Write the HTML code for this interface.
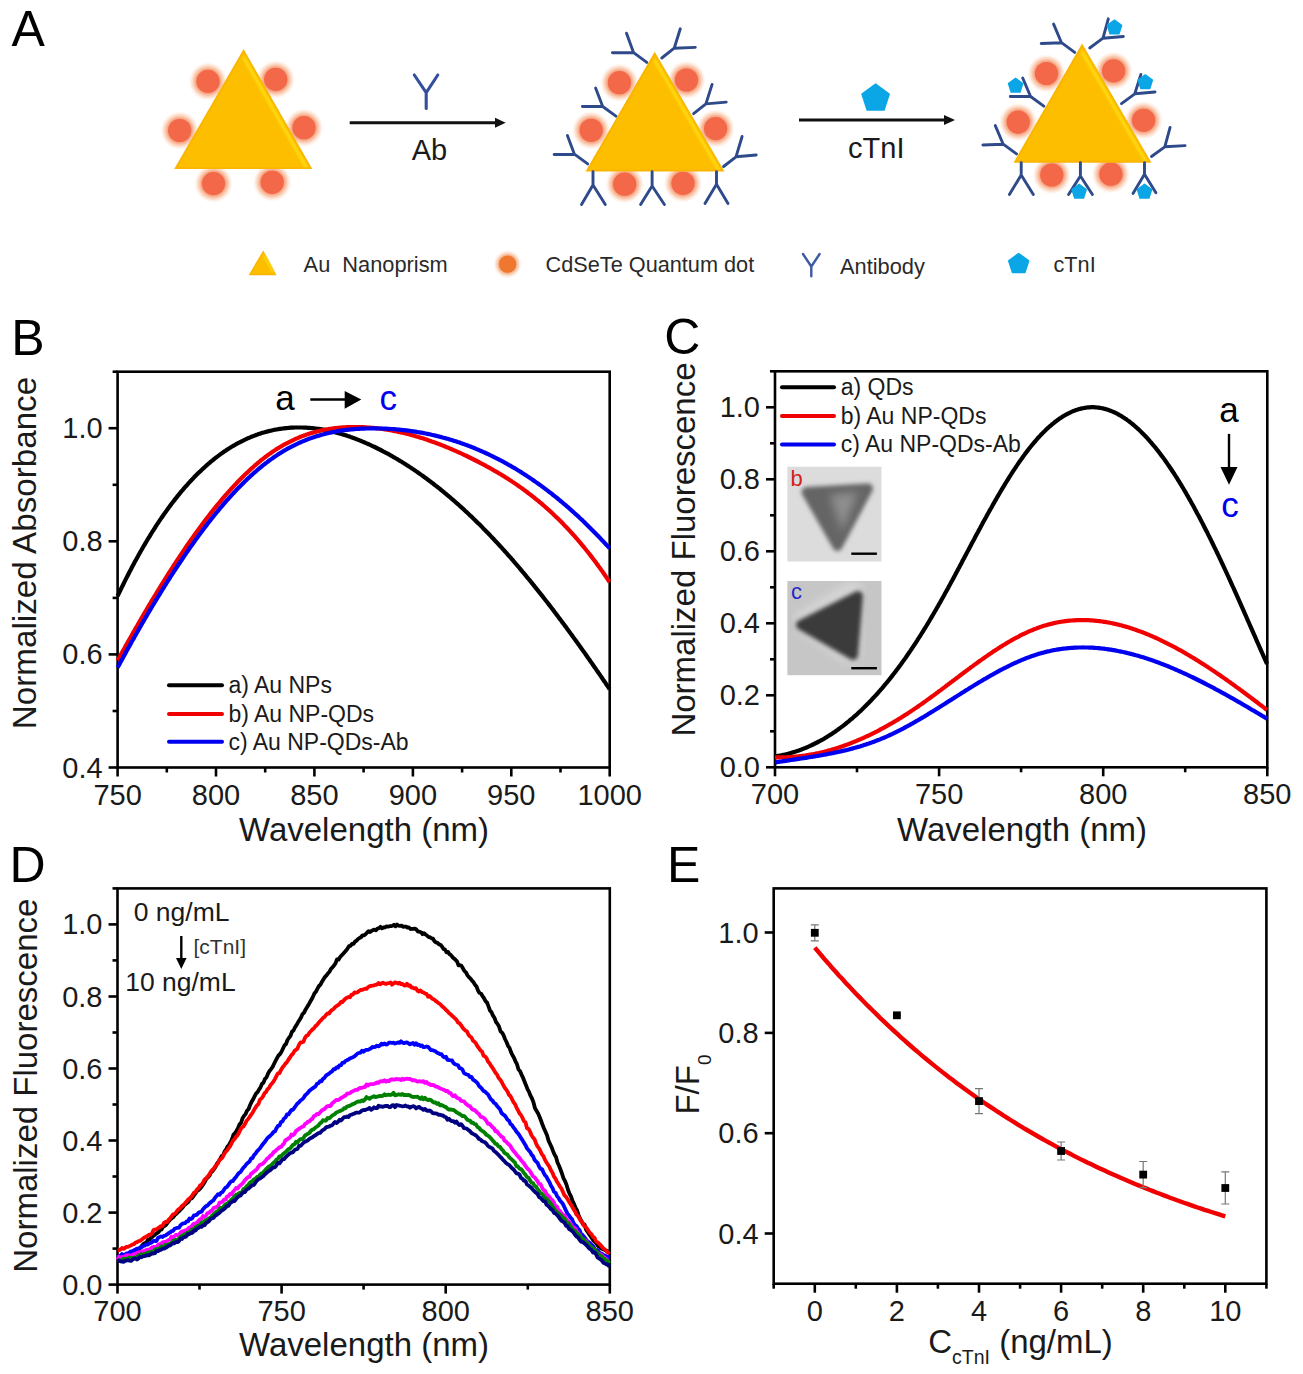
<!DOCTYPE html><html><head><meta charset="utf-8"><style>html,body{margin:0;padding:0;background:#fff;}svg{display:block;}</style></head><body>
<svg width="1303" height="1374" viewBox="0 0 1303 1374" font-family='"Liberation Sans", sans-serif'>
<defs>
<radialGradient id="qd" cx="50%" cy="50%" r="50%">
 <stop offset="0" stop-color="#F59070"/>
 <stop offset="0.55" stop-color="#F59070"/>
 <stop offset="0.68" stop-color="#F8B08C" stop-opacity="0.9"/>
 <stop offset="0.84" stop-color="#FBD0B6" stop-opacity="0.55"/>
 <stop offset="1" stop-color="#FEEEE4" stop-opacity="0"/>
</radialGradient>
<radialGradient id="qd2" cx="50%" cy="50%" r="50%">
 <stop offset="0" stop-color="#F5A070"/>
 <stop offset="0.55" stop-color="#F5A070"/>
 <stop offset="0.72" stop-color="#F8C09C" stop-opacity="0.8"/>
 <stop offset="0.86" stop-color="#FBDCC8" stop-opacity="0.45"/>
 <stop offset="1" stop-color="#FEF0E8" stop-opacity="0"/>
</radialGradient>
<filter id="soft" x="-10%" y="-10%" width="120%" height="120%"><feGaussianBlur stdDeviation="0.8"/></filter>
</defs>
<rect width="1303" height="1374" fill="#fff"/>
<circle cx="208" cy="81.4" r="19.5" fill="url(#qd)"/>
<circle cx="208" cy="81.4" r="11.6" fill="#F26848"/>
<circle cx="275.7" cy="79.4" r="19.5" fill="url(#qd)"/>
<circle cx="275.7" cy="79.4" r="11.6" fill="#F26848"/>
<circle cx="179.7" cy="130.5" r="19.5" fill="url(#qd)"/>
<circle cx="179.7" cy="130.5" r="11.6" fill="#F26848"/>
<circle cx="304" cy="127.7" r="19.5" fill="url(#qd)"/>
<circle cx="304" cy="127.7" r="11.6" fill="#F26848"/>
<circle cx="213.5" cy="183.6" r="19.5" fill="url(#qd)"/>
<circle cx="213.5" cy="183.6" r="11.6" fill="#F26848"/>
<circle cx="272.2" cy="182.3" r="19.5" fill="url(#qd)"/>
<circle cx="272.2" cy="182.3" r="11.6" fill="#F26848"/>
<polygon points="243.6,49 174.2,169.1 312.3,169.1" fill="#F9B500"/>
<polygon points="243.6,53.0 177.7,167.1 308.9,167.1" fill="#FDBE00"/>
<line x1="244.1" y1="58.3" x2="305.9" y2="166.4" stroke="#FFDC12" stroke-width="3" stroke-linecap="round" filter="url(#soft)"/>
<circle cx="619.4" cy="82.7" r="19.5" fill="url(#qd)"/>
<circle cx="619.4" cy="82.7" r="11.6" fill="#F26848"/>
<circle cx="686.5" cy="80" r="19.5" fill="url(#qd)"/>
<circle cx="686.5" cy="80" r="11.6" fill="#F26848"/>
<circle cx="591.2" cy="130.3" r="19.5" fill="url(#qd)"/>
<circle cx="591.2" cy="130.3" r="11.6" fill="#F26848"/>
<circle cx="715.6" cy="128.6" r="19.5" fill="url(#qd)"/>
<circle cx="715.6" cy="128.6" r="11.6" fill="#F26848"/>
<circle cx="624.7" cy="184.2" r="19.5" fill="url(#qd)"/>
<circle cx="624.7" cy="184.2" r="11.6" fill="#F26848"/>
<circle cx="683" cy="183.3" r="19.5" fill="url(#qd)"/>
<circle cx="683" cy="183.3" r="11.6" fill="#F26848"/>
<polygon points="654.7,51.8 585.5,171.5 724.5,171.5" fill="#F9B500"/>
<polygon points="654.7,55.8 589.0,169.5 721.0,169.5" fill="#FDBE00"/>
<line x1="655.3" y1="61.1" x2="718.1" y2="168.8" stroke="#FFDC12" stroke-width="3" stroke-linecap="round" filter="url(#soft)"/>
<path d="M615.9,116.2 L602.7,106.5 M582.4,106.5 L602.7,106.5 L595.6,88" stroke="#2F4A8A" stroke-width="2.9" fill="none" stroke-linecap="round" stroke-linejoin="round"/>
<path d="M587.7,163.9 L574.4,154.2 M554.1,154.5 L574.4,154.2 L567.4,135.6" stroke="#2F4A8A" stroke-width="2.9" fill="none" stroke-linecap="round" stroke-linejoin="round"/>
<path d="M646.8,62.4 L633.6,52.7 M612.4,52.7 L633.6,52.7 L626.5,33.2" stroke="#2F4A8A" stroke-width="2.9" fill="none" stroke-linecap="round" stroke-linejoin="round"/>
<path d="M661.8,58 L674.2,48.2 M695.3,47.4 L674.2,48.2 L680.3,28.8" stroke="#2F4A8A" stroke-width="2.9" fill="none" stroke-linecap="round" stroke-linejoin="round"/>
<path d="M693.6,113.6 L705.9,103.9 M726.2,102.1 L705.9,103.9 L712.1,84.4" stroke="#2F4A8A" stroke-width="2.9" fill="none" stroke-linecap="round" stroke-linejoin="round"/>
<path d="M723.6,166.5 L736,156.8 M756.2,155 L736,156.8 L742.1,136.5" stroke="#2F4A8A" stroke-width="2.9" fill="none" stroke-linecap="round" stroke-linejoin="round"/>
<path d="M593,171.8 L593,185 M581.5,204.5 L593,185 L605.3,204.5" stroke="#2F4A8A" stroke-width="2.9" fill="none" stroke-linecap="round" stroke-linejoin="round"/>
<path d="M652.1,171.8 L652.1,186 M640.6,204.5 L652.1,186 L664.4,204.5" stroke="#2F4A8A" stroke-width="2.9" fill="none" stroke-linecap="round" stroke-linejoin="round"/>
<path d="M716.5,171.8 L716.5,184.2 M705,203.6 L716.5,184.2 L728,203.6" stroke="#2F4A8A" stroke-width="2.9" fill="none" stroke-linecap="round" stroke-linejoin="round"/>
<circle cx="1046.5" cy="73.5" r="19.5" fill="url(#qd)"/>
<circle cx="1046.5" cy="73.5" r="11.6" fill="#F26848"/>
<circle cx="1113.6" cy="70.9" r="19.5" fill="url(#qd)"/>
<circle cx="1113.6" cy="70.9" r="11.6" fill="#F26848"/>
<circle cx="1018.2" cy="122.1" r="19.5" fill="url(#qd)"/>
<circle cx="1018.2" cy="122.1" r="11.6" fill="#F26848"/>
<circle cx="1143.6" cy="120.3" r="19.5" fill="url(#qd)"/>
<circle cx="1143.6" cy="120.3" r="11.6" fill="#F26848"/>
<circle cx="1051.8" cy="175" r="19.5" fill="url(#qd)"/>
<circle cx="1051.8" cy="175" r="11.6" fill="#F26848"/>
<circle cx="1110.9" cy="174.2" r="19.5" fill="url(#qd)"/>
<circle cx="1110.9" cy="174.2" r="11.6" fill="#F26848"/>
<polygon points="1082.1,43.5 1013.5,162.7 1151.5,162.7" fill="#F9B500"/>
<polygon points="1082.1,47.5 1016.9,160.7 1148.0,160.7" fill="#FDBE00"/>
<line x1="1082.6" y1="52.8" x2="1145.1" y2="160.0" stroke="#FFDC12" stroke-width="3" stroke-linecap="round" filter="url(#soft)"/>
<path d="M1074.7,52.4 L1061.5,42.7 M1041.2,43.5 L1061.5,42.7 L1053.6,24.1" stroke="#2F4A8A" stroke-width="2.9" fill="none" stroke-linecap="round" stroke-linejoin="round"/>
<path d="M1089.7,48 L1103,38.2 M1123.3,36.5 L1103,38.2 L1108.3,18.8" stroke="#2F4A8A" stroke-width="2.9" fill="none" stroke-linecap="round" stroke-linejoin="round"/>
<path d="M1043.8,106.2 L1030.6,96.5 M1010.3,96.5 L1030.6,96.5 L1022.7,78" stroke="#2F4A8A" stroke-width="2.9" fill="none" stroke-linecap="round" stroke-linejoin="round"/>
<path d="M1016.5,153.9 L1003.2,144.2 M982.9,145 L1003.2,144.2 L995.3,125.6" stroke="#2F4A8A" stroke-width="2.9" fill="none" stroke-linecap="round" stroke-linejoin="round"/>
<path d="M1121.5,103.6 L1134.8,93.8 M1155,92 L1134.8,93.8 L1140.9,74.4" stroke="#2F4A8A" stroke-width="2.9" fill="none" stroke-linecap="round" stroke-linejoin="round"/>
<path d="M1151.5,156.5 L1164.8,146.8 M1185.1,145.6 L1164.8,146.8 L1170.1,127.4" stroke="#2F4A8A" stroke-width="2.9" fill="none" stroke-linecap="round" stroke-linejoin="round"/>
<path d="M1021.2,162.7 L1021.2,175 M1009.4,194.5 L1021.2,175 L1033.3,194.5" stroke="#2F4A8A" stroke-width="2.9" fill="none" stroke-linecap="round" stroke-linejoin="round"/>
<path d="M1080.4,162.7 L1080.4,176 M1068.6,194.5 L1080.4,176 L1092.4,194.5" stroke="#2F4A8A" stroke-width="2.9" fill="none" stroke-linecap="round" stroke-linejoin="round"/>
<path d="M1144.5,162.7 L1144.5,174.2 M1133,193.6 L1144.5,174.2 L1155.9,192.7" stroke="#2F4A8A" stroke-width="2.9" fill="none" stroke-linecap="round" stroke-linejoin="round"/>
<polygon points="1114.5,20.2 1121.6,25.4 1118.9,33.8 1110.1,33.8 1107.4,25.4" fill="#0AA6E6" stroke="#0AA6E6" stroke-width="1.5" stroke-linejoin="round"/>
<polygon points="1015.6,78.4 1022.7,83.6 1020.0,92.0 1011.2,92.0 1008.5,83.6" fill="#0AA6E6" stroke="#0AA6E6" stroke-width="1.5" stroke-linejoin="round"/>
<polygon points="1145.3,74.9 1152.4,80.1 1149.7,88.5 1140.9,88.5 1138.2,80.1" fill="#0AA6E6" stroke="#0AA6E6" stroke-width="1.5" stroke-linejoin="round"/>
<polygon points="1079.1,184.3 1086.2,189.5 1083.5,197.9 1074.7,197.9 1072.0,189.5" fill="#0AA6E6" stroke="#0AA6E6" stroke-width="1.5" stroke-linejoin="round"/>
<polygon points="1144.5,184.3 1151.6,189.5 1148.9,197.9 1140.1,197.9 1137.4,189.5" fill="#0AA6E6" stroke="#0AA6E6" stroke-width="1.5" stroke-linejoin="round"/>
<line x1="349.7" y1="122.8" x2="497" y2="122.8" stroke="#111" stroke-width="3"/>
<polygon points="495,117.8 505.7,122.8 495,127.8" fill="#111"/>
<path d="M414.3,75 L426.2,92.6 L437.8,75 M426.2,92.6 L426.2,108.5" stroke="#34509C" stroke-width="3.1" fill="none" stroke-linecap="round" stroke-linejoin="round"/>
<text x="429.4" y="160" font-size="29" text-anchor="middle" fill="#1a1a1a">Ab</text>
<line x1="799" y1="120" x2="946" y2="120" stroke="#111" stroke-width="3"/>
<polygon points="944,115 955,120 944,125" fill="#111"/>
<polygon points="875.6,84.2 889.2,94.1 884.0,110.1 867.2,110.1 862.0,94.1" fill="#0AA6E6" stroke="#0AA6E6" stroke-width="1.5" stroke-linejoin="round"/>
<text x="876.3" y="157.7" font-size="29" text-anchor="middle" fill="#1a1a1a">cTnI</text>
<polygon points="263.2,250.4 248.6,275.2 276.6,275.2" fill="#F9B500"/>
<polygon points="263.2,253 251.5,273.5 274,273.5" fill="#FDBE00"/>
<line x1="264" y1="255.5" x2="273" y2="271.5" stroke="#FFDC12" stroke-width="2" stroke-linecap="round" filter="url(#soft)"/>
<text x="303.6" y="272.1" font-size="21.8" fill="#2a2a2a" xml:space="preserve">Au  Nanoprism</text>
<circle cx="507.6" cy="264.2" r="14.5" fill="url(#qd2)"/>
<circle cx="507.6" cy="264.2" r="8.6" fill="#EF7730"/>
<text x="545.6" y="272.2" font-size="21.7" fill="#2a2a2a">CdSeTe Quantum dot</text>
<path d="M803,254 L811.3,266.5 L819.6,254 M811.3,266.5 L811.3,276.3" stroke="#3E5AA6" stroke-width="2.4" fill="none" stroke-linecap="round" stroke-linejoin="round"/>
<text x="840" y="273.6" font-size="21.8" fill="#2a2a2a">Antibody</text>
<polygon points="1018.7,253.5 1028.7,260.8 1024.9,272.5 1012.5,272.5 1008.7,260.8" fill="#0AA6E6" stroke="#0AA6E6" stroke-width="1.5" stroke-linejoin="round"/>
<text x="1053.5" y="271.5" font-size="21.7" fill="#2a2a2a">cTnI</text>
<text x="11.5" y="46" font-size="50" fill="#000">A</text>
<text x="11.2" y="354.5" font-size="50" fill="#000">B</text>
<text x="664.2" y="354" font-size="50" fill="#000">C</text>
<text x="9.4" y="882" font-size="50" fill="#000">D</text>
<text x="667.1" y="882" font-size="50" fill="#000">E</text>
<rect x="117.6" y="371.7" width="492.1" height="395.8" fill="none" stroke="#000" stroke-width="2.6"/>
<line x1="117.6" y1="767.5" x2="117.6" y2="776.5" stroke="#000" stroke-width="2.6"/>
<line x1="216.0" y1="767.5" x2="216.0" y2="776.5" stroke="#000" stroke-width="2.6"/>
<line x1="314.4" y1="767.5" x2="314.4" y2="776.5" stroke="#000" stroke-width="2.6"/>
<line x1="412.9" y1="767.5" x2="412.9" y2="776.5" stroke="#000" stroke-width="2.6"/>
<line x1="511.3" y1="767.5" x2="511.3" y2="776.5" stroke="#000" stroke-width="2.6"/>
<line x1="609.7" y1="767.5" x2="609.7" y2="776.5" stroke="#000" stroke-width="2.6"/>
<line x1="166.8" y1="767.5" x2="166.8" y2="772.5" stroke="#000" stroke-width="2.6"/>
<line x1="265.2" y1="767.5" x2="265.2" y2="772.5" stroke="#000" stroke-width="2.6"/>
<line x1="363.6" y1="767.5" x2="363.6" y2="772.5" stroke="#000" stroke-width="2.6"/>
<line x1="462.1" y1="767.5" x2="462.1" y2="772.5" stroke="#000" stroke-width="2.6"/>
<line x1="560.5" y1="767.5" x2="560.5" y2="772.5" stroke="#000" stroke-width="2.6"/>
<line x1="108.6" y1="767.5" x2="117.6" y2="767.5" stroke="#000" stroke-width="2.6"/>
<line x1="108.6" y1="654.4" x2="117.6" y2="654.4" stroke="#000" stroke-width="2.6"/>
<line x1="108.6" y1="541.3" x2="117.6" y2="541.3" stroke="#000" stroke-width="2.6"/>
<line x1="108.6" y1="428.2" x2="117.6" y2="428.2" stroke="#000" stroke-width="2.6"/>
<line x1="112.6" y1="711.0" x2="117.6" y2="711.0" stroke="#000" stroke-width="2.6"/>
<line x1="112.6" y1="597.9" x2="117.6" y2="597.9" stroke="#000" stroke-width="2.6"/>
<line x1="112.6" y1="484.8" x2="117.6" y2="484.8" stroke="#000" stroke-width="2.6"/>
<line x1="112.6" y1="371.7" x2="117.6" y2="371.7" stroke="#000" stroke-width="2.6"/>
<text x="117.6" y="804.5" font-size="29" text-anchor="middle" fill="#1a1a1a">750</text>
<text x="216.0" y="804.5" font-size="29" text-anchor="middle" fill="#1a1a1a">800</text>
<text x="314.4" y="804.5" font-size="29" text-anchor="middle" fill="#1a1a1a">850</text>
<text x="412.9" y="804.5" font-size="29" text-anchor="middle" fill="#1a1a1a">900</text>
<text x="511.3" y="804.5" font-size="29" text-anchor="middle" fill="#1a1a1a">950</text>
<text x="609.7" y="804.5" font-size="29" text-anchor="middle" fill="#1a1a1a">1000</text>
<text x="102.6" y="777.5" font-size="29" text-anchor="end" fill="#1a1a1a">0.4</text>
<text x="102.6" y="664.4" font-size="29" text-anchor="end" fill="#1a1a1a">0.6</text>
<text x="102.6" y="551.3" font-size="29" text-anchor="end" fill="#1a1a1a">0.8</text>
<text x="102.6" y="438.2" font-size="29" text-anchor="end" fill="#1a1a1a">1.0</text>
<text x="364" y="841" font-size="33" text-anchor="middle" fill="#1a1a1a">Wavelength (nm)</text>
<text transform="translate(35.8,553) rotate(-90)" font-size="33.2" text-anchor="middle" fill="#1a1a1a">Normalized Absorbance</text>
<path d="M117.6,596.0 L118.6,593.9 L119.6,591.8 L120.6,589.8 L121.6,587.7 L122.6,585.7 L123.6,583.6 L124.6,581.6 L125.6,579.6 L126.6,577.6 L127.6,575.7 L128.6,573.7 L129.6,571.8 L130.6,569.9 L131.6,568.0 L132.6,566.1 L133.6,564.2 L134.6,562.3 L135.6,560.5 L136.6,558.7 L137.6,556.9 L138.6,555.1 L139.6,553.3 L140.6,551.5 L141.6,549.8 L142.6,548.0 L143.6,546.3 L144.6,544.6 L145.6,542.9 L146.6,541.2 L147.6,539.5 L148.6,537.9 L149.6,536.3 L150.6,534.6 L151.6,533.0 L152.6,531.4 L153.6,529.9 L154.6,528.3 L155.6,526.7 L156.6,525.2 L157.6,523.7 L158.6,522.2 L159.6,520.7 L160.6,519.2 L161.6,517.7 L162.6,516.3 L163.6,514.8 L164.6,513.4 L165.6,512.0 L166.6,510.6 L167.6,509.2 L168.6,507.8 L169.6,506.5 L170.6,505.1 L171.6,503.8 L172.6,502.5 L173.6,501.2 L174.6,499.9 L175.6,498.6 L176.6,497.4 L177.6,496.1 L178.6,494.9 L179.6,493.7 L180.6,492.4 L181.6,491.2 L182.6,490.1 L183.6,488.9 L184.6,487.7 L185.6,486.6 L186.6,485.5 L187.6,484.3 L188.6,483.2 L189.6,482.1 L190.6,481.0 L191.6,480.0 L192.6,478.9 L193.6,477.9 L194.6,476.8 L195.6,475.8 L196.6,474.8 L197.6,473.8 L198.6,472.8 L199.6,471.9 L200.6,470.9 L201.6,469.9 L202.6,469.0 L203.6,468.1 L204.6,467.2 L205.6,466.3 L206.6,465.4 L207.6,464.5 L208.6,463.6 L209.6,462.8 L210.6,461.9 L211.6,461.1 L212.6,460.3 L213.6,459.5 L214.6,458.7 L215.6,457.9 L216.6,457.1 L217.6,456.4 L218.6,455.6 L219.6,454.9 L220.6,454.1 L221.6,453.4 L222.6,452.7 L223.6,452.0 L224.6,451.3 L225.6,450.7 L226.6,450.0 L227.6,449.3 L228.6,448.7 L229.6,448.1 L230.6,447.4 L231.6,446.8 L232.6,446.2 L233.6,445.6 L234.6,445.1 L235.6,444.5 L236.6,443.9 L237.6,443.4 L238.6,442.8 L239.6,442.3 L240.6,441.8 L241.6,441.3 L242.6,440.8 L243.6,440.3 L244.6,439.8 L245.6,439.4 L246.6,438.9 L247.6,438.4 L248.6,438.0 L249.6,437.6 L250.6,437.2 L251.6,436.7 L252.6,436.3 L253.6,436.0 L254.6,435.6 L255.6,435.2 L256.6,434.8 L257.6,434.5 L258.6,434.1 L259.6,433.8 L260.6,433.5 L261.6,433.1 L262.6,432.8 L263.6,432.5 L264.6,432.3 L265.6,432.0 L266.6,431.7 L267.6,431.4 L268.6,431.2 L269.6,430.9 L270.6,430.7 L271.6,430.5 L272.6,430.2 L273.6,430.0 L274.6,429.8 L275.6,429.6 L276.6,429.5 L277.6,429.3 L278.6,429.1 L279.6,428.9 L280.6,428.8 L281.6,428.7 L282.6,428.5 L283.6,428.4 L284.6,428.3 L285.6,428.2 L286.6,428.1 L287.6,428.0 L288.6,427.9 L289.6,427.8 L290.6,427.7 L291.6,427.7 L292.6,427.6 L293.6,427.6 L294.6,427.5 L295.6,427.5 L296.6,427.5 L297.6,427.5 L298.6,427.5 L299.6,427.5 L300.6,427.5 L301.6,427.5 L302.6,427.5 L303.6,427.6 L304.6,427.6 L305.6,427.6 L306.6,427.7 L307.6,427.8 L308.6,427.8 L309.6,427.9 L310.6,428.0 L311.6,428.1 L312.6,428.2 L313.6,428.3 L314.6,428.4 L315.6,428.5 L316.6,428.7 L317.6,428.8 L318.6,428.9 L319.6,429.1 L320.6,429.2 L321.6,429.4 L322.6,429.6 L323.6,429.7 L324.6,429.9 L325.6,430.1 L326.6,430.3 L327.6,430.5 L328.6,430.7 L329.6,430.9 L330.6,431.2 L331.6,431.4 L332.6,431.6 L333.6,431.9 L334.6,432.1 L335.6,432.4 L336.6,432.7 L337.6,432.9 L338.6,433.2 L339.6,433.5 L340.6,433.8 L341.6,434.1 L342.6,434.4 L343.6,434.7 L344.6,435.0 L345.6,435.3 L346.6,435.6 L347.6,436.0 L348.6,436.3 L349.6,436.6 L350.6,437.0 L351.6,437.3 L352.6,437.7 L353.6,438.1 L354.6,438.4 L355.6,438.8 L356.6,439.2 L357.6,439.6 L358.6,440.0 L359.6,440.4 L360.6,440.8 L361.6,441.2 L362.6,441.6 L363.6,442.0 L364.6,442.5 L365.6,442.9 L366.6,443.3 L367.6,443.8 L368.6,444.2 L369.6,444.7 L370.6,445.1 L371.6,445.6 L372.6,446.1 L373.6,446.5 L374.6,447.0 L375.6,447.5 L376.6,448.0 L377.6,448.5 L378.6,449.0 L379.6,449.5 L380.6,450.0 L381.6,450.5 L382.6,451.0 L383.6,451.6 L384.6,452.1 L385.6,452.6 L386.6,453.2 L387.6,453.7 L388.6,454.2 L389.6,454.8 L390.6,455.4 L391.6,455.9 L392.6,456.5 L393.6,457.1 L394.6,457.6 L395.6,458.2 L396.6,458.8 L397.6,459.4 L398.6,460.0 L399.6,460.6 L400.6,461.2 L401.6,461.8 L402.6,462.4 L403.6,463.1 L404.6,463.7 L405.6,464.3 L406.6,465.0 L407.6,465.6 L408.6,466.2 L409.6,466.9 L410.6,467.6 L411.6,468.2 L412.6,468.9 L413.6,469.6 L414.6,470.2 L415.6,470.9 L416.6,471.6 L417.6,472.3 L418.6,473.0 L419.6,473.7 L420.6,474.4 L421.6,475.1 L422.6,475.8 L423.6,476.5 L424.6,477.3 L425.6,478.0 L426.6,478.7 L427.6,479.5 L428.6,480.2 L429.6,481.0 L430.6,481.7 L431.6,482.5 L432.6,483.2 L433.6,484.0 L434.6,484.8 L435.6,485.6 L436.6,486.3 L437.6,487.1 L438.6,487.9 L439.6,488.7 L440.6,489.5 L441.6,490.3 L442.6,491.1 L443.6,492.0 L444.6,492.8 L445.6,493.6 L446.6,494.5 L447.6,495.3 L448.6,496.1 L449.6,497.0 L450.6,497.8 L451.6,498.7 L452.6,499.5 L453.6,500.4 L454.6,501.3 L455.6,502.2 L456.6,503.0 L457.6,503.9 L458.6,504.8 L459.6,505.7 L460.6,506.6 L461.6,507.5 L462.6,508.4 L463.6,509.3 L464.6,510.3 L465.6,511.2 L466.6,512.1 L467.6,513.1 L468.6,514.0 L469.6,514.9 L470.6,515.9 L471.6,516.8 L472.6,517.8 L473.6,518.8 L474.6,519.7 L475.6,520.7 L476.6,521.7 L477.6,522.7 L478.6,523.6 L479.6,524.6 L480.6,525.6 L481.6,526.6 L482.6,527.6 L483.6,528.7 L484.6,529.7 L485.6,530.7 L486.6,531.7 L487.6,532.7 L488.6,533.8 L489.6,534.8 L490.6,535.9 L491.6,536.9 L492.6,538.0 L493.6,539.0 L494.6,540.1 L495.6,541.2 L496.6,542.2 L497.6,543.3 L498.6,544.4 L499.6,545.5 L500.6,546.6 L501.6,547.7 L502.6,548.8 L503.6,549.9 L504.6,551.0 L505.6,552.1 L506.6,553.2 L507.6,554.3 L508.6,555.5 L509.6,556.6 L510.6,557.7 L511.6,558.9 L512.6,560.0 L513.6,561.2 L514.6,562.3 L515.6,563.5 L516.6,564.7 L517.6,565.8 L518.6,567.0 L519.6,568.2 L520.6,569.4 L521.6,570.6 L522.6,571.8 L523.6,572.9 L524.6,574.1 L525.6,575.3 L526.6,576.6 L527.6,577.8 L528.6,579.0 L529.6,580.2 L530.6,581.4 L531.6,582.7 L532.6,583.9 L533.6,585.1 L534.6,586.4 L535.6,587.6 L536.6,588.9 L537.6,590.1 L538.6,591.4 L539.6,592.6 L540.6,593.9 L541.6,595.1 L542.6,596.4 L543.6,597.7 L544.6,599.0 L545.6,600.3 L546.6,601.5 L547.6,602.8 L548.6,604.1 L549.6,605.4 L550.6,606.7 L551.6,608.0 L552.6,609.3 L553.6,610.6 L554.6,612.0 L555.6,613.3 L556.6,614.6 L557.6,615.9 L558.6,617.3 L559.6,618.6 L560.6,619.9 L561.6,621.3 L562.6,622.6 L563.6,623.9 L564.6,625.3 L565.6,626.6 L566.6,628.0 L567.6,629.4 L568.6,630.7 L569.6,632.1 L570.6,633.5 L571.6,634.8 L572.6,636.2 L573.6,637.6 L574.6,639.0 L575.6,640.3 L576.6,641.7 L577.6,643.1 L578.6,644.5 L579.6,645.9 L580.6,647.3 L581.6,648.7 L582.6,650.1 L583.6,651.5 L584.6,652.9 L585.6,654.3 L586.6,655.8 L587.6,657.2 L588.6,658.6 L589.6,660.0 L590.6,661.5 L591.6,662.9 L592.6,664.3 L593.6,665.8 L594.6,667.2 L595.6,668.6 L596.6,670.1 L597.6,671.5 L598.6,673.0 L599.6,674.4 L600.6,675.9 L601.6,677.3 L602.6,678.8 L603.6,680.3 L604.6,681.7 L605.6,683.2 L606.6,684.7 L607.6,686.1 L608.6,687.6 L609.6,689.1" fill="none" stroke="#000" stroke-width="4.2"/>
<path d="M117.6,660.6 L118.6,658.7 L119.6,656.9 L120.6,655.1 L121.6,653.3 L122.6,651.5 L123.6,649.7 L124.6,647.9 L125.6,646.1 L126.6,644.3 L127.6,642.6 L128.6,640.8 L129.6,639.0 L130.6,637.2 L131.6,635.5 L132.6,633.7 L133.6,631.9 L134.6,630.2 L135.6,628.4 L136.6,626.7 L137.6,625.0 L138.6,623.2 L139.6,621.5 L140.6,619.8 L141.6,618.0 L142.6,616.3 L143.6,614.6 L144.6,612.9 L145.6,611.2 L146.6,609.5 L147.6,607.8 L148.6,606.1 L149.6,604.4 L150.6,602.8 L151.6,601.1 L152.6,599.4 L153.6,597.8 L154.6,596.1 L155.6,594.5 L156.6,592.8 L157.6,591.2 L158.6,589.5 L159.6,587.9 L160.6,586.3 L161.6,584.7 L162.6,583.1 L163.6,581.5 L164.6,579.9 L165.6,578.3 L166.6,576.7 L167.6,575.1 L168.6,573.5 L169.6,572.0 L170.6,570.4 L171.6,568.8 L172.6,567.3 L173.6,565.7 L174.6,564.2 L175.6,562.7 L176.6,561.1 L177.6,559.6 L178.6,558.1 L179.6,556.6 L180.6,555.1 L181.6,553.6 L182.6,552.1 L183.6,550.6 L184.6,549.2 L185.6,547.7 L186.6,546.2 L187.6,544.8 L188.6,543.3 L189.6,541.9 L190.6,540.5 L191.6,539.0 L192.6,537.6 L193.6,536.2 L194.6,534.8 L195.6,533.4 L196.6,532.0 L197.6,530.7 L198.6,529.3 L199.6,527.9 L200.6,526.6 L201.6,525.2 L202.6,523.9 L203.6,522.5 L204.6,521.2 L205.6,519.9 L206.6,518.6 L207.6,517.3 L208.6,516.0 L209.6,514.7 L210.6,513.4 L211.6,512.1 L212.6,510.9 L213.6,509.6 L214.6,508.4 L215.6,507.1 L216.6,505.9 L217.6,504.7 L218.6,503.5 L219.6,502.3 L220.6,501.1 L221.6,499.9 L222.6,498.7 L223.6,497.5 L224.6,496.4 L225.6,495.2 L226.6,494.1 L227.6,492.9 L228.6,491.8 L229.6,490.7 L230.6,489.6 L231.6,488.5 L232.6,487.4 L233.6,486.3 L234.6,485.2 L235.6,484.2 L236.6,483.1 L237.6,482.1 L238.6,481.0 L239.6,480.0 L240.6,479.0 L241.6,478.0 L242.6,477.0 L243.6,476.0 L244.6,475.0 L245.6,474.1 L246.6,473.1 L247.6,472.2 L248.6,471.2 L249.6,470.3 L250.6,469.4 L251.6,468.5 L252.6,467.6 L253.6,466.7 L254.6,465.8 L255.6,464.9 L256.6,464.1 L257.6,463.2 L258.6,462.4 L259.6,461.6 L260.6,460.7 L261.6,459.9 L262.6,459.1 L263.6,458.4 L264.6,457.6 L265.6,456.8 L266.6,456.1 L267.6,455.3 L268.6,454.6 L269.6,453.9 L270.6,453.2 L271.6,452.5 L272.6,451.8 L273.6,451.1 L274.6,450.4 L275.6,449.8 L276.6,449.1 L277.6,448.5 L278.6,447.9 L279.6,447.3 L280.6,446.7 L281.6,446.1 L282.6,445.5 L283.6,444.9 L284.6,444.4 L285.6,443.8 L286.6,443.3 L287.6,442.8 L288.6,442.3 L289.6,441.8 L290.6,441.3 L291.6,440.8 L292.6,440.3 L293.6,439.8 L294.6,439.4 L295.6,438.9 L296.6,438.5 L297.6,438.1 L298.6,437.6 L299.6,437.2 L300.6,436.8 L301.6,436.4 L302.6,436.0 L303.6,435.7 L304.6,435.3 L305.6,435.0 L306.6,434.6 L307.6,434.3 L308.6,433.9 L309.6,433.6 L310.6,433.3 L311.6,433.0 L312.6,432.7 L313.6,432.4 L314.6,432.1 L315.6,431.9 L316.6,431.6 L317.6,431.4 L318.6,431.1 L319.6,430.9 L320.6,430.6 L321.6,430.4 L322.6,430.2 L323.6,430.0 L324.6,429.8 L325.6,429.6 L326.6,429.4 L327.6,429.3 L328.6,429.1 L329.6,428.9 L330.6,428.8 L331.6,428.6 L332.6,428.5 L333.6,428.3 L334.6,428.2 L335.6,428.1 L336.6,428.0 L337.6,427.9 L338.6,427.8 L339.6,427.7 L340.6,427.6 L341.6,427.5 L342.6,427.4 L343.6,427.4 L344.6,427.3 L345.6,427.3 L346.6,427.2 L347.6,427.2 L348.6,427.1 L349.6,427.1 L350.6,427.1 L351.6,427.0 L352.6,427.0 L353.6,427.0 L354.6,427.0 L355.6,427.0 L356.6,427.0 L357.6,427.0 L358.6,427.1 L359.6,427.1 L360.6,427.1 L361.6,427.1 L362.6,427.2 L363.6,427.2 L364.6,427.3 L365.6,427.3 L366.6,427.4 L367.6,427.5 L368.6,427.5 L369.6,427.6 L370.6,427.7 L371.6,427.8 L372.6,427.9 L373.6,427.9 L374.6,428.0 L375.6,428.2 L376.6,428.3 L377.6,428.4 L378.6,428.5 L379.6,428.6 L380.6,428.7 L381.6,428.9 L382.6,429.0 L383.6,429.2 L384.6,429.3 L385.6,429.5 L386.6,429.6 L387.6,429.8 L388.6,430.0 L389.6,430.1 L390.6,430.3 L391.6,430.5 L392.6,430.7 L393.6,430.9 L394.6,431.1 L395.6,431.3 L396.6,431.5 L397.6,431.7 L398.6,431.9 L399.6,432.1 L400.6,432.3 L401.6,432.6 L402.6,432.8 L403.6,433.0 L404.6,433.3 L405.6,433.5 L406.6,433.8 L407.6,434.0 L408.6,434.3 L409.6,434.5 L410.6,434.8 L411.6,435.1 L412.6,435.3 L413.6,435.6 L414.6,435.9 L415.6,436.2 L416.6,436.5 L417.6,436.8 L418.6,437.1 L419.6,437.4 L420.6,437.7 L421.6,438.0 L422.6,438.3 L423.6,438.6 L424.6,439.0 L425.6,439.3 L426.6,439.6 L427.6,440.0 L428.6,440.3 L429.6,440.7 L430.6,441.0 L431.6,441.4 L432.6,441.7 L433.6,442.1 L434.6,442.4 L435.6,442.8 L436.6,443.2 L437.6,443.6 L438.6,443.9 L439.6,444.3 L440.6,444.7 L441.6,445.1 L442.6,445.5 L443.6,445.9 L444.6,446.3 L445.6,446.7 L446.6,447.1 L447.6,447.5 L448.6,447.9 L449.6,448.4 L450.6,448.8 L451.6,449.2 L452.6,449.6 L453.6,450.1 L454.6,450.5 L455.6,450.9 L456.6,451.4 L457.6,451.8 L458.6,452.3 L459.6,452.7 L460.6,453.2 L461.6,453.7 L462.6,454.1 L463.6,454.6 L464.6,455.1 L465.6,455.5 L466.6,456.0 L467.6,456.5 L468.6,457.0 L469.6,457.5 L470.6,458.0 L471.6,458.5 L472.6,459.0 L473.6,459.5 L474.6,460.0 L475.6,460.5 L476.6,461.0 L477.6,461.5 L478.6,462.0 L479.6,462.5 L480.6,463.1 L481.6,463.6 L482.6,464.1 L483.6,464.6 L484.6,465.2 L485.6,465.7 L486.6,466.3 L487.6,466.8 L488.6,467.4 L489.6,467.9 L490.6,468.5 L491.6,469.0 L492.6,469.6 L493.6,470.2 L494.6,470.8 L495.6,471.3 L496.6,471.9 L497.6,472.5 L498.6,473.1 L499.6,473.7 L500.6,474.3 L501.6,474.9 L502.6,475.5 L503.6,476.1 L504.6,476.8 L505.6,477.4 L506.6,478.0 L507.6,478.6 L508.6,479.3 L509.6,479.9 L510.6,480.6 L511.6,481.2 L512.6,481.9 L513.6,482.6 L514.6,483.2 L515.6,483.9 L516.6,484.6 L517.6,485.3 L518.6,486.0 L519.6,486.7 L520.6,487.4 L521.6,488.1 L522.6,488.8 L523.6,489.6 L524.6,490.3 L525.6,491.0 L526.6,491.8 L527.6,492.5 L528.6,493.3 L529.6,494.1 L530.6,494.8 L531.6,495.6 L532.6,496.4 L533.6,497.2 L534.6,498.0 L535.6,498.8 L536.6,499.6 L537.6,500.4 L538.6,501.2 L539.6,502.1 L540.6,502.9 L541.6,503.7 L542.6,504.6 L543.6,505.5 L544.6,506.3 L545.6,507.2 L546.6,508.1 L547.6,509.0 L548.6,509.9 L549.6,510.8 L550.6,511.7 L551.6,512.6 L552.6,513.6 L553.6,514.5 L554.6,515.5 L555.6,516.4 L556.6,517.4 L557.6,518.3 L558.6,519.3 L559.6,520.3 L560.6,521.3 L561.6,522.3 L562.6,523.3 L563.6,524.4 L564.6,525.4 L565.6,526.4 L566.6,527.5 L567.6,528.5 L568.6,529.6 L569.6,530.7 L570.6,531.8 L571.6,532.9 L572.6,534.0 L573.6,535.1 L574.6,536.2 L575.6,537.4 L576.6,538.5 L577.6,539.7 L578.6,540.8 L579.6,542.0 L580.6,543.2 L581.6,544.4 L582.6,545.6 L583.6,546.8 L584.6,548.0 L585.6,549.2 L586.6,550.5 L587.6,551.7 L588.6,553.0 L589.6,554.3 L590.6,555.6 L591.6,556.9 L592.6,558.2 L593.6,559.5 L594.6,560.8 L595.6,562.1 L596.6,563.5 L597.6,564.9 L598.6,566.2 L599.6,567.6 L600.6,569.0 L601.6,570.4 L602.6,571.8 L603.6,573.2 L604.6,574.7 L605.6,576.1 L606.6,577.6 L607.6,579.1 L608.6,580.6 L609.6,582.1" fill="none" stroke="#F00000" stroke-width="4.2"/>
<path d="M117.6,667.6 L118.6,665.7 L119.6,663.9 L120.6,662.1 L121.6,660.2 L122.6,658.4 L123.6,656.6 L124.6,654.7 L125.6,652.9 L126.6,651.1 L127.6,649.3 L128.6,647.5 L129.6,645.7 L130.6,643.9 L131.6,642.1 L132.6,640.3 L133.6,638.6 L134.6,636.8 L135.6,635.0 L136.6,633.3 L137.6,631.5 L138.6,629.7 L139.6,628.0 L140.6,626.3 L141.6,624.5 L142.6,622.8 L143.6,621.1 L144.6,619.3 L145.6,617.6 L146.6,615.9 L147.6,614.2 L148.6,612.5 L149.6,610.8 L150.6,609.2 L151.6,607.5 L152.6,605.8 L153.6,604.1 L154.6,602.5 L155.6,600.8 L156.6,599.2 L157.6,597.5 L158.6,595.9 L159.6,594.3 L160.6,592.6 L161.6,591.0 L162.6,589.4 L163.6,587.8 L164.6,586.2 L165.6,584.6 L166.6,583.0 L167.6,581.4 L168.6,579.9 L169.6,578.3 L170.6,576.7 L171.6,575.2 L172.6,573.6 L173.6,572.1 L174.6,570.5 L175.6,569.0 L176.6,567.5 L177.6,566.0 L178.6,564.5 L179.6,563.0 L180.6,561.5 L181.6,560.0 L182.6,558.5 L183.6,557.0 L184.6,555.6 L185.6,554.1 L186.6,552.6 L187.6,551.2 L188.6,549.8 L189.6,548.3 L190.6,546.9 L191.6,545.5 L192.6,544.1 L193.6,542.7 L194.6,541.3 L195.6,539.9 L196.6,538.5 L197.6,537.1 L198.6,535.8 L199.6,534.4 L200.6,533.1 L201.6,531.7 L202.6,530.4 L203.6,529.1 L204.6,527.7 L205.6,526.4 L206.6,525.1 L207.6,523.8 L208.6,522.5 L209.6,521.3 L210.6,520.0 L211.6,518.7 L212.6,517.5 L213.6,516.2 L214.6,515.0 L215.6,513.8 L216.6,512.5 L217.6,511.3 L218.6,510.1 L219.6,508.9 L220.6,507.7 L221.6,506.5 L222.6,505.4 L223.6,504.2 L224.6,503.0 L225.6,501.9 L226.6,500.7 L227.6,499.6 L228.6,498.5 L229.6,497.4 L230.6,496.3 L231.6,495.2 L232.6,494.1 L233.6,493.0 L234.6,491.9 L235.6,490.9 L236.6,489.8 L237.6,488.8 L238.6,487.7 L239.6,486.7 L240.6,485.7 L241.6,484.7 L242.6,483.7 L243.6,482.7 L244.6,481.7 L245.6,480.8 L246.6,479.8 L247.6,478.8 L248.6,477.9 L249.6,477.0 L250.6,476.0 L251.6,475.1 L252.6,474.2 L253.6,473.3 L254.6,472.4 L255.6,471.6 L256.6,470.7 L257.6,469.8 L258.6,469.0 L259.6,468.1 L260.6,467.3 L261.6,466.5 L262.6,465.7 L263.6,464.9 L264.6,464.1 L265.6,463.3 L266.6,462.6 L267.6,461.8 L268.6,461.0 L269.6,460.3 L270.6,459.6 L271.6,458.9 L272.6,458.2 L273.6,457.5 L274.6,456.8 L275.6,456.1 L276.6,455.4 L277.6,454.8 L278.6,454.1 L279.6,453.5 L280.6,452.9 L281.6,452.2 L282.6,451.6 L283.6,451.0 L284.6,450.4 L285.6,449.9 L286.6,449.3 L287.6,448.7 L288.6,448.2 L289.6,447.6 L290.6,447.1 L291.6,446.6 L292.6,446.1 L293.6,445.6 L294.6,445.1 L295.6,444.6 L296.6,444.1 L297.6,443.6 L298.6,443.2 L299.6,442.7 L300.6,442.3 L301.6,441.8 L302.6,441.4 L303.6,441.0 L304.6,440.6 L305.6,440.2 L306.6,439.8 L307.6,439.4 L308.6,439.0 L309.6,438.6 L310.6,438.3 L311.6,437.9 L312.6,437.6 L313.6,437.2 L314.6,436.9 L315.6,436.6 L316.6,436.3 L317.6,436.0 L318.6,435.7 L319.6,435.4 L320.6,435.1 L321.6,434.8 L322.6,434.5 L323.6,434.3 L324.6,434.0 L325.6,433.7 L326.6,433.5 L327.6,433.3 L328.6,433.0 L329.6,432.8 L330.6,432.6 L331.6,432.4 L332.6,432.2 L333.6,432.0 L334.6,431.8 L335.6,431.6 L336.6,431.4 L337.6,431.2 L338.6,431.1 L339.6,430.9 L340.6,430.7 L341.6,430.6 L342.6,430.4 L343.6,430.3 L344.6,430.2 L345.6,430.0 L346.6,429.9 L347.6,429.8 L348.6,429.7 L349.6,429.6 L350.6,429.5 L351.6,429.4 L352.6,429.3 L353.6,429.2 L354.6,429.1 L355.6,429.0 L356.6,429.0 L357.6,428.9 L358.6,428.8 L359.6,428.8 L360.6,428.7 L361.6,428.7 L362.6,428.6 L363.6,428.6 L364.6,428.6 L365.6,428.5 L366.6,428.5 L367.6,428.5 L368.6,428.5 L369.6,428.4 L370.6,428.4 L371.6,428.4 L372.6,428.4 L373.6,428.4 L374.6,428.4 L375.6,428.4 L376.6,428.4 L377.6,428.4 L378.6,428.5 L379.6,428.5 L380.6,428.5 L381.6,428.5 L382.6,428.6 L383.6,428.6 L384.6,428.6 L385.6,428.7 L386.6,428.7 L387.6,428.8 L388.6,428.8 L389.6,428.9 L390.6,429.0 L391.6,429.0 L392.6,429.1 L393.6,429.2 L394.6,429.2 L395.6,429.3 L396.6,429.4 L397.6,429.5 L398.6,429.6 L399.6,429.7 L400.6,429.8 L401.6,429.9 L402.6,430.0 L403.6,430.1 L404.6,430.2 L405.6,430.3 L406.6,430.4 L407.6,430.6 L408.6,430.7 L409.6,430.8 L410.6,431.0 L411.6,431.1 L412.6,431.3 L413.6,431.4 L414.6,431.6 L415.6,431.7 L416.6,431.9 L417.6,432.0 L418.6,432.2 L419.6,432.4 L420.6,432.6 L421.6,432.7 L422.6,432.9 L423.6,433.1 L424.6,433.3 L425.6,433.5 L426.6,433.7 L427.6,433.9 L428.6,434.1 L429.6,434.3 L430.6,434.5 L431.6,434.8 L432.6,435.0 L433.6,435.2 L434.6,435.4 L435.6,435.7 L436.6,435.9 L437.6,436.2 L438.6,436.4 L439.6,436.7 L440.6,436.9 L441.6,437.2 L442.6,437.5 L443.6,437.7 L444.6,438.0 L445.6,438.3 L446.6,438.6 L447.6,438.8 L448.6,439.1 L449.6,439.4 L450.6,439.7 L451.6,440.0 L452.6,440.3 L453.6,440.7 L454.6,441.0 L455.6,441.3 L456.6,441.6 L457.6,442.0 L458.6,442.3 L459.6,442.6 L460.6,443.0 L461.6,443.3 L462.6,443.7 L463.6,444.0 L464.6,444.4 L465.6,444.8 L466.6,445.1 L467.6,445.5 L468.6,445.9 L469.6,446.3 L470.6,446.6 L471.6,447.0 L472.6,447.4 L473.6,447.8 L474.6,448.2 L475.6,448.6 L476.6,449.1 L477.6,449.5 L478.6,449.9 L479.6,450.3 L480.6,450.8 L481.6,451.2 L482.6,451.6 L483.6,452.1 L484.6,452.5 L485.6,453.0 L486.6,453.5 L487.6,453.9 L488.6,454.4 L489.6,454.9 L490.6,455.3 L491.6,455.8 L492.6,456.3 L493.6,456.8 L494.6,457.3 L495.6,457.8 L496.6,458.3 L497.6,458.8 L498.6,459.3 L499.6,459.9 L500.6,460.4 L501.6,460.9 L502.6,461.4 L503.6,462.0 L504.6,462.5 L505.6,463.1 L506.6,463.6 L507.6,464.2 L508.6,464.8 L509.6,465.3 L510.6,465.9 L511.6,466.5 L512.6,467.1 L513.6,467.7 L514.6,468.2 L515.6,468.8 L516.6,469.4 L517.6,470.1 L518.6,470.7 L519.6,471.3 L520.6,471.9 L521.6,472.5 L522.6,473.2 L523.6,473.8 L524.6,474.5 L525.6,475.1 L526.6,475.8 L527.6,476.4 L528.6,477.1 L529.6,477.7 L530.6,478.4 L531.6,479.1 L532.6,479.8 L533.6,480.5 L534.6,481.2 L535.6,481.9 L536.6,482.6 L537.6,483.3 L538.6,484.0 L539.6,484.7 L540.6,485.4 L541.6,486.1 L542.6,486.9 L543.6,487.6 L544.6,488.4 L545.6,489.1 L546.6,489.9 L547.6,490.6 L548.6,491.4 L549.6,492.2 L550.6,492.9 L551.6,493.7 L552.6,494.5 L553.6,495.3 L554.6,496.1 L555.6,496.9 L556.6,497.7 L557.6,498.5 L558.6,499.3 L559.6,500.2 L560.6,501.0 L561.6,501.8 L562.6,502.7 L563.6,503.5 L564.6,504.4 L565.6,505.2 L566.6,506.1 L567.6,506.9 L568.6,507.8 L569.6,508.7 L570.6,509.6 L571.6,510.5 L572.6,511.4 L573.6,512.3 L574.6,513.2 L575.6,514.1 L576.6,515.0 L577.6,515.9 L578.6,516.8 L579.6,517.8 L580.6,518.7 L581.6,519.6 L582.6,520.6 L583.6,521.5 L584.6,522.5 L585.6,523.5 L586.6,524.4 L587.6,525.4 L588.6,526.4 L589.6,527.4 L590.6,528.4 L591.6,529.4 L592.6,530.4 L593.6,531.4 L594.6,532.4 L595.6,533.4 L596.6,534.5 L597.6,535.5 L598.6,536.5 L599.6,537.6 L600.6,538.6 L601.6,539.7 L602.6,540.7 L603.6,541.8 L604.6,542.9 L605.6,544.0 L606.6,545.1 L607.6,546.1 L608.6,547.2 L609.6,548.3" fill="none" stroke="#0000F0" stroke-width="4.2"/>
<text x="285" y="409.5" font-size="35" text-anchor="middle" fill="#000">a</text>
<line x1="310.3" y1="399.5" x2="346" y2="399.5" stroke="#000" stroke-width="2.4"/>
<polygon points="344.7,390.9 361.3,399.5 344.7,408.7" fill="#000"/>
<text x="388.3" y="409.5" font-size="35" text-anchor="middle" fill="#0000F0">c</text>
<line x1="169" y1="685.3" x2="222" y2="685.3" stroke="#000" stroke-width="4" stroke-linecap="round"/>
<text x="228.4" y="693.3" font-size="23" fill="#1a1a1a">a) Au NPs</text>
<line x1="169" y1="713.9" x2="222" y2="713.9" stroke="#F00000" stroke-width="4" stroke-linecap="round"/>
<text x="228.4" y="721.9" font-size="23" fill="#1a1a1a">b) Au NP-QDs</text>
<line x1="169" y1="741.8" x2="222" y2="741.8" stroke="#0000F0" stroke-width="4" stroke-linecap="round"/>
<text x="228.4" y="749.8" font-size="23" fill="#1a1a1a">c) Au NP-QDs-Ab</text>
<rect x="775" y="371.3" width="492.3" height="396.0" fill="none" stroke="#000" stroke-width="2.6"/>
<line x1="775.0" y1="767.3" x2="775.0" y2="776.3" stroke="#000" stroke-width="2.6"/>
<line x1="939.1" y1="767.3" x2="939.1" y2="776.3" stroke="#000" stroke-width="2.6"/>
<line x1="1103.2" y1="767.3" x2="1103.2" y2="776.3" stroke="#000" stroke-width="2.6"/>
<line x1="1267.3" y1="767.3" x2="1267.3" y2="776.3" stroke="#000" stroke-width="2.6"/>
<line x1="857.0" y1="767.3" x2="857.0" y2="772.3" stroke="#000" stroke-width="2.6"/>
<line x1="1021.1" y1="767.3" x2="1021.1" y2="772.3" stroke="#000" stroke-width="2.6"/>
<line x1="1185.2" y1="767.3" x2="1185.2" y2="772.3" stroke="#000" stroke-width="2.6"/>
<line x1="766" y1="767.3" x2="775" y2="767.3" stroke="#000" stroke-width="2.6"/>
<line x1="766" y1="695.3" x2="775" y2="695.3" stroke="#000" stroke-width="2.6"/>
<line x1="766" y1="623.3" x2="775" y2="623.3" stroke="#000" stroke-width="2.6"/>
<line x1="766" y1="551.3" x2="775" y2="551.3" stroke="#000" stroke-width="2.6"/>
<line x1="766" y1="479.3" x2="775" y2="479.3" stroke="#000" stroke-width="2.6"/>
<line x1="766" y1="407.3" x2="775" y2="407.3" stroke="#000" stroke-width="2.6"/>
<line x1="770" y1="731.3" x2="775" y2="731.3" stroke="#000" stroke-width="2.6"/>
<line x1="770" y1="659.3" x2="775" y2="659.3" stroke="#000" stroke-width="2.6"/>
<line x1="770" y1="587.3" x2="775" y2="587.3" stroke="#000" stroke-width="2.6"/>
<line x1="770" y1="515.3" x2="775" y2="515.3" stroke="#000" stroke-width="2.6"/>
<line x1="770" y1="443.3" x2="775" y2="443.3" stroke="#000" stroke-width="2.6"/>
<line x1="770" y1="371.3" x2="775" y2="371.3" stroke="#000" stroke-width="2.6"/>
<text x="775.0" y="804.3" font-size="29" text-anchor="middle" fill="#1a1a1a">700</text>
<text x="939.1" y="804.3" font-size="29" text-anchor="middle" fill="#1a1a1a">750</text>
<text x="1103.2" y="804.3" font-size="29" text-anchor="middle" fill="#1a1a1a">800</text>
<text x="1267.3" y="804.3" font-size="29" text-anchor="middle" fill="#1a1a1a">850</text>
<text x="760" y="777.3" font-size="29" text-anchor="end" fill="#1a1a1a">0.0</text>
<text x="760" y="705.3" font-size="29" text-anchor="end" fill="#1a1a1a">0.2</text>
<text x="760" y="633.3" font-size="29" text-anchor="end" fill="#1a1a1a">0.4</text>
<text x="760" y="561.3" font-size="29" text-anchor="end" fill="#1a1a1a">0.6</text>
<text x="760" y="489.3" font-size="29" text-anchor="end" fill="#1a1a1a">0.8</text>
<text x="760" y="417.3" font-size="29" text-anchor="end" fill="#1a1a1a">1.0</text>
<text x="1022" y="841" font-size="33" text-anchor="middle" fill="#1a1a1a">Wavelength (nm)</text>
<text transform="translate(695,549.5) rotate(-90)" font-size="33" text-anchor="middle" fill="#1a1a1a">Normalized Fluorescence</text>
<defs><filter id="blur2" x="-20%" y="-20%" width="140%" height="140%"><feGaussianBlur stdDeviation="2.2"/></filter><filter id="blur1" x="-20%" y="-20%" width="140%" height="140%"><feGaussianBlur stdDeviation="1.3"/></filter>
<filter id="blur4" x="-30%" y="-30%" width="160%" height="160%"><feGaussianBlur stdDeviation="4"/></filter>
<clipPath id="clipb"><rect x="787.2" y="466.4" width="94.5" height="95.3"/></clipPath>
<clipPath id="clipc"><rect x="787.2" y="580.9" width="94.5" height="94.5"/></clipPath></defs>
<g clip-path="url(#clipb)"><rect x="787.2" y="466.4" width="94.5" height="95.3" fill="#DCDCDC"/>
<polygon points="806.5,492 868,488.5 837.5,546" fill="#656565" stroke="#656565" stroke-width="10" stroke-linejoin="round" filter="url(#blur2)"/>
<polygon points="830,495 858,492 842,532" fill="#8E8E8E" filter="url(#blur4)"/></g>
<line x1="851.3" y1="553.7" x2="876.9" y2="553.7" stroke="#000" stroke-width="2.4"/>
<text x="790.5" y="486" font-size="22" fill="#D42020">b</text>
<g clip-path="url(#clipc)"><rect x="787.2" y="580.9" width="94.5" height="94.5" fill="#C6C6C6"/>
<polygon points="806,622 852,594 849,651" fill="#D6D6D6" stroke="#D6D6D6" stroke-width="24" stroke-linejoin="round" filter="url(#blur4)"/>
<polygon points="801,625 858,596 853,655" fill="#3A3A3A" stroke="#3A3A3A" stroke-width="10" stroke-linejoin="round" filter="url(#blur2)"/></g>
<line x1="851.3" y1="668.2" x2="876.9" y2="668.2" stroke="#000" stroke-width="2.4"/>
<text x="791" y="598.5" font-size="22" fill="#2828C8">c</text>
<path d="M775.0,756.4 L776.0,756.2 L777.0,756.1 L778.0,755.9 L779.0,755.7 L780.0,755.5 L781.0,755.4 L782.0,755.2 L783.0,754.9 L784.0,754.7 L785.0,754.5 L786.0,754.3 L787.0,754.0 L788.0,753.8 L789.0,753.5 L790.0,753.2 L791.0,752.9 L792.0,752.6 L793.0,752.4 L794.0,752.0 L795.0,751.7 L796.0,751.4 L797.0,751.1 L798.0,750.7 L799.0,750.4 L800.0,750.0 L801.0,749.7 L802.0,749.3 L803.0,748.9 L804.0,748.5 L805.0,748.1 L806.0,747.7 L807.0,747.3 L808.0,746.8 L809.0,746.4 L810.0,745.9 L811.0,745.5 L812.0,745.0 L813.0,744.5 L814.0,744.0 L815.0,743.5 L816.0,743.0 L817.0,742.5 L818.0,742.0 L819.0,741.5 L820.0,740.9 L821.0,740.4 L822.0,739.8 L823.0,739.3 L824.0,738.7 L825.0,738.1 L826.0,737.5 L827.0,736.9 L828.0,736.3 L829.0,735.6 L830.0,735.0 L831.0,734.4 L832.0,733.7 L833.0,733.0 L834.0,732.4 L835.0,731.7 L836.0,731.0 L837.0,730.3 L838.0,729.6 L839.0,728.8 L840.0,728.1 L841.0,727.4 L842.0,726.6 L843.0,725.9 L844.0,725.1 L845.0,724.3 L846.0,723.5 L847.0,722.7 L848.0,721.9 L849.0,721.1 L850.0,720.2 L851.0,719.4 L852.0,718.6 L853.0,717.7 L854.0,716.8 L855.0,715.9 L856.0,715.1 L857.0,714.2 L858.0,713.2 L859.0,712.3 L860.0,711.4 L861.0,710.4 L862.0,709.5 L863.0,708.5 L864.0,707.6 L865.0,706.6 L866.0,705.6 L867.0,704.6 L868.0,703.6 L869.0,702.5 L870.0,701.5 L871.0,700.5 L872.0,699.4 L873.0,698.3 L874.0,697.3 L875.0,696.2 L876.0,695.1 L877.0,694.0 L878.0,692.9 L879.0,691.7 L880.0,690.6 L881.0,689.4 L882.0,688.3 L883.0,687.1 L884.0,685.9 L885.0,684.7 L886.0,683.5 L887.0,682.3 L888.0,681.1 L889.0,679.9 L890.0,678.6 L891.0,677.4 L892.0,676.1 L893.0,674.8 L894.0,673.5 L895.0,672.2 L896.0,670.9 L897.0,669.6 L898.0,668.2 L899.0,666.9 L900.0,665.5 L901.0,664.2 L902.0,662.8 L903.0,661.4 L904.0,660.0 L905.0,658.6 L906.0,657.2 L907.0,655.7 L908.0,654.3 L909.0,652.8 L910.0,651.4 L911.0,649.9 L912.0,648.4 L913.0,646.9 L914.0,645.4 L915.0,643.9 L916.0,642.3 L917.0,640.8 L918.0,639.2 L919.0,637.7 L920.0,636.1 L921.0,634.5 L922.0,632.9 L923.0,631.3 L924.0,629.7 L925.0,628.1 L926.0,626.5 L927.0,624.8 L928.0,623.2 L929.0,621.5 L930.0,619.8 L931.0,618.1 L932.0,616.4 L933.0,614.7 L934.0,613.0 L935.0,611.3 L936.0,609.6 L937.0,607.8 L938.0,606.1 L939.0,604.3 L940.0,602.6 L941.0,600.8 L942.0,599.0 L943.0,597.2 L944.0,595.4 L945.0,593.6 L946.0,591.8 L947.0,590.0 L948.0,588.2 L949.0,586.3 L950.0,584.5 L951.0,582.6 L952.0,580.8 L953.0,578.9 L954.0,577.0 L955.0,575.2 L956.0,573.3 L957.0,571.4 L958.0,569.5 L959.0,567.7 L960.0,565.8 L961.0,563.9 L962.0,562.0 L963.0,560.1 L964.0,558.2 L965.0,556.3 L966.0,554.4 L967.0,552.5 L968.0,550.7 L969.0,548.8 L970.0,546.9 L971.0,545.0 L972.0,543.1 L973.0,541.2 L974.0,539.4 L975.0,537.5 L976.0,535.6 L977.0,533.7 L978.0,531.9 L979.0,530.0 L980.0,528.2 L981.0,526.3 L982.0,524.5 L983.0,522.6 L984.0,520.8 L985.0,519.0 L986.0,517.2 L987.0,515.3 L988.0,513.5 L989.0,511.7 L990.0,509.9 L991.0,508.2 L992.0,506.4 L993.0,504.6 L994.0,502.9 L995.0,501.1 L996.0,499.4 L997.0,497.6 L998.0,495.9 L999.0,494.2 L1000.0,492.5 L1001.0,490.8 L1002.0,489.1 L1003.0,487.4 L1004.0,485.8 L1005.0,484.1 L1006.0,482.5 L1007.0,480.9 L1008.0,479.3 L1009.0,477.7 L1010.0,476.1 L1011.0,474.5 L1012.0,472.9 L1013.0,471.4 L1014.0,469.9 L1015.0,468.4 L1016.0,466.8 L1017.0,465.4 L1018.0,463.9 L1019.0,462.4 L1020.0,461.0 L1021.0,459.6 L1022.0,458.2 L1023.0,456.8 L1024.0,455.4 L1025.0,454.0 L1026.0,452.7 L1027.0,451.4 L1028.0,450.1 L1029.0,448.8 L1030.0,447.5 L1031.0,446.3 L1032.0,445.0 L1033.0,443.8 L1034.0,442.6 L1035.0,441.5 L1036.0,440.3 L1037.0,439.2 L1038.0,438.0 L1039.0,436.9 L1040.0,435.9 L1041.0,434.8 L1042.0,433.8 L1043.0,432.7 L1044.0,431.7 L1045.0,430.8 L1046.0,429.8 L1047.0,428.8 L1048.0,427.9 L1049.0,427.0 L1050.0,426.1 L1051.0,425.3 L1052.0,424.4 L1053.0,423.6 L1054.0,422.8 L1055.0,422.0 L1056.0,421.2 L1057.0,420.5 L1058.0,419.7 L1059.0,419.0 L1060.0,418.3 L1061.0,417.7 L1062.0,417.0 L1063.0,416.4 L1064.0,415.8 L1065.0,415.2 L1066.0,414.6 L1067.0,414.1 L1068.0,413.6 L1069.0,413.1 L1070.0,412.6 L1071.0,412.1 L1072.0,411.7 L1073.0,411.2 L1074.0,410.8 L1075.0,410.5 L1076.0,410.1 L1077.0,409.8 L1078.0,409.4 L1079.0,409.1 L1080.0,408.9 L1081.0,408.6 L1082.0,408.4 L1083.0,408.2 L1084.0,408.0 L1085.0,407.8 L1086.0,407.7 L1087.0,407.5 L1088.0,407.4 L1089.0,407.3 L1090.0,407.3 L1091.0,407.2 L1092.0,407.2 L1093.0,407.2 L1094.0,407.2 L1095.0,407.3 L1096.0,407.4 L1097.0,407.5 L1098.0,407.6 L1099.0,407.7 L1100.0,407.9 L1101.0,408.0 L1102.0,408.2 L1103.0,408.4 L1104.0,408.7 L1105.0,408.9 L1106.0,409.2 L1107.0,409.5 L1108.0,409.8 L1109.0,410.2 L1110.0,410.6 L1111.0,410.9 L1112.0,411.4 L1113.0,411.8 L1114.0,412.2 L1115.0,412.7 L1116.0,413.2 L1117.0,413.7 L1118.0,414.2 L1119.0,414.8 L1120.0,415.3 L1121.0,415.9 L1122.0,416.5 L1123.0,417.2 L1124.0,417.8 L1125.0,418.5 L1126.0,419.1 L1127.0,419.9 L1128.0,420.6 L1129.0,421.3 L1130.0,422.1 L1131.0,422.9 L1132.0,423.7 L1133.0,424.5 L1134.0,425.3 L1135.0,426.2 L1136.0,427.1 L1137.0,428.0 L1138.0,428.9 L1139.0,429.8 L1140.0,430.8 L1141.0,431.7 L1142.0,432.7 L1143.0,433.7 L1144.0,434.7 L1145.0,435.8 L1146.0,436.8 L1147.0,437.9 L1148.0,439.0 L1149.0,440.1 L1150.0,441.3 L1151.0,442.4 L1152.0,443.6 L1153.0,444.8 L1154.0,446.0 L1155.0,447.2 L1156.0,448.4 L1157.0,449.7 L1158.0,450.9 L1159.0,452.2 L1160.0,453.5 L1161.0,454.9 L1162.0,456.2 L1163.0,457.5 L1164.0,458.9 L1165.0,460.3 L1166.0,461.7 L1167.0,463.1 L1168.0,464.6 L1169.0,466.0 L1170.0,467.5 L1171.0,469.0 L1172.0,470.5 L1173.0,472.0 L1174.0,473.5 L1175.0,475.1 L1176.0,476.6 L1177.0,478.2 L1178.0,479.8 L1179.0,481.4 L1180.0,483.1 L1181.0,484.7 L1182.0,486.4 L1183.0,488.0 L1184.0,489.7 L1185.0,491.4 L1186.0,493.1 L1187.0,494.9 L1188.0,496.6 L1189.0,498.4 L1190.0,500.1 L1191.0,501.9 L1192.0,503.7 L1193.0,505.5 L1194.0,507.3 L1195.0,509.2 L1196.0,511.0 L1197.0,512.9 L1198.0,514.8 L1199.0,516.6 L1200.0,518.5 L1201.0,520.4 L1202.0,522.4 L1203.0,524.3 L1204.0,526.2 L1205.0,528.2 L1206.0,530.2 L1207.0,532.1 L1208.0,534.1 L1209.0,536.1 L1210.0,538.1 L1211.0,540.2 L1212.0,542.2 L1213.0,544.2 L1214.0,546.3 L1215.0,548.4 L1216.0,550.4 L1217.0,552.5 L1218.0,554.6 L1219.0,556.7 L1220.0,558.8 L1221.0,560.9 L1222.0,563.1 L1223.0,565.2 L1224.0,567.3 L1225.0,569.5 L1226.0,571.7 L1227.0,573.8 L1228.0,576.0 L1229.0,578.2 L1230.0,580.4 L1231.0,582.6 L1232.0,584.8 L1233.0,587.0 L1234.0,589.2 L1235.0,591.4 L1236.0,593.7 L1237.0,595.9 L1238.0,598.2 L1239.0,600.4 L1240.0,602.6 L1241.0,604.9 L1242.0,607.2 L1243.0,609.4 L1244.0,611.7 L1245.0,614.0 L1246.0,616.2 L1247.0,618.5 L1248.0,620.8 L1249.0,623.0 L1250.0,625.3 L1251.0,627.6 L1252.0,629.9 L1253.0,632.2 L1254.0,634.4 L1255.0,636.7 L1256.0,639.0 L1257.0,641.3 L1258.0,643.5 L1259.0,645.8 L1260.0,648.1 L1261.0,650.4 L1262.0,652.6 L1263.0,654.9 L1264.0,657.2 L1265.0,659.4 L1266.0,661.7 L1267.0,664.0" fill="none" stroke="#000" stroke-width="4.2"/>
<path d="M775.0,757.3 L776.0,757.3 L777.0,757.3 L778.0,757.3 L779.0,757.4 L780.0,757.4 L781.0,757.4 L782.0,757.3 L783.0,757.3 L784.0,757.3 L785.0,757.3 L786.0,757.3 L787.0,757.2 L788.0,757.2 L789.0,757.1 L790.0,757.1 L791.0,757.0 L792.0,756.9 L793.0,756.9 L794.0,756.8 L795.0,756.7 L796.0,756.6 L797.0,756.5 L798.0,756.4 L799.0,756.3 L800.0,756.2 L801.0,756.1 L802.0,755.9 L803.0,755.8 L804.0,755.7 L805.0,755.5 L806.0,755.4 L807.0,755.2 L808.0,755.1 L809.0,754.9 L810.0,754.7 L811.0,754.6 L812.0,754.4 L813.0,754.2 L814.0,754.0 L815.0,753.8 L816.0,753.6 L817.0,753.4 L818.0,753.2 L819.0,753.0 L820.0,752.7 L821.0,752.5 L822.0,752.3 L823.0,752.0 L824.0,751.8 L825.0,751.5 L826.0,751.3 L827.0,751.0 L828.0,750.7 L829.0,750.4 L830.0,750.2 L831.0,749.9 L832.0,749.6 L833.0,749.3 L834.0,749.0 L835.0,748.7 L836.0,748.4 L837.0,748.1 L838.0,747.7 L839.0,747.4 L840.0,747.1 L841.0,746.7 L842.0,746.4 L843.0,746.1 L844.0,745.7 L845.0,745.3 L846.0,745.0 L847.0,744.6 L848.0,744.2 L849.0,743.9 L850.0,743.5 L851.0,743.1 L852.0,742.7 L853.0,742.3 L854.0,741.9 L855.0,741.5 L856.0,741.1 L857.0,740.7 L858.0,740.2 L859.0,739.8 L860.0,739.4 L861.0,738.9 L862.0,738.5 L863.0,738.1 L864.0,737.6 L865.0,737.1 L866.0,736.7 L867.0,736.2 L868.0,735.8 L869.0,735.3 L870.0,734.8 L871.0,734.3 L872.0,733.8 L873.0,733.3 L874.0,732.8 L875.0,732.3 L876.0,731.8 L877.0,731.3 L878.0,730.8 L879.0,730.3 L880.0,729.7 L881.0,729.2 L882.0,728.7 L883.0,728.1 L884.0,727.6 L885.0,727.0 L886.0,726.5 L887.0,725.9 L888.0,725.4 L889.0,724.8 L890.0,724.2 L891.0,723.7 L892.0,723.1 L893.0,722.5 L894.0,721.9 L895.0,721.3 L896.0,720.7 L897.0,720.1 L898.0,719.5 L899.0,718.9 L900.0,718.3 L901.0,717.7 L902.0,717.0 L903.0,716.4 L904.0,715.8 L905.0,715.1 L906.0,714.5 L907.0,713.9 L908.0,713.2 L909.0,712.6 L910.0,711.9 L911.0,711.2 L912.0,710.6 L913.0,709.9 L914.0,709.2 L915.0,708.6 L916.0,707.9 L917.0,707.2 L918.0,706.5 L919.0,705.8 L920.0,705.1 L921.0,704.4 L922.0,703.7 L923.0,703.0 L924.0,702.3 L925.0,701.6 L926.0,700.9 L927.0,700.1 L928.0,699.4 L929.0,698.7 L930.0,698.0 L931.0,697.2 L932.0,696.5 L933.0,695.8 L934.0,695.1 L935.0,694.3 L936.0,693.6 L937.0,692.8 L938.0,692.1 L939.0,691.3 L940.0,690.6 L941.0,689.9 L942.0,689.1 L943.0,688.4 L944.0,687.6 L945.0,686.9 L946.0,686.1 L947.0,685.3 L948.0,684.6 L949.0,683.8 L950.0,683.1 L951.0,682.3 L952.0,681.6 L953.0,680.8 L954.0,680.1 L955.0,679.3 L956.0,678.6 L957.0,677.8 L958.0,677.1 L959.0,676.3 L960.0,675.5 L961.0,674.8 L962.0,674.0 L963.0,673.3 L964.0,672.5 L965.0,671.8 L966.0,671.1 L967.0,670.3 L968.0,669.6 L969.0,668.8 L970.0,668.1 L971.0,667.3 L972.0,666.6 L973.0,665.9 L974.0,665.1 L975.0,664.4 L976.0,663.7 L977.0,663.0 L978.0,662.2 L979.0,661.5 L980.0,660.8 L981.0,660.1 L982.0,659.4 L983.0,658.7 L984.0,658.0 L985.0,657.3 L986.0,656.6 L987.0,655.9 L988.0,655.2 L989.0,654.5 L990.0,653.8 L991.0,653.2 L992.0,652.5 L993.0,651.8 L994.0,651.1 L995.0,650.5 L996.0,649.8 L997.0,649.2 L998.0,648.5 L999.0,647.9 L1000.0,647.3 L1001.0,646.6 L1002.0,646.0 L1003.0,645.4 L1004.0,644.8 L1005.0,644.2 L1006.0,643.5 L1007.0,642.9 L1008.0,642.4 L1009.0,641.8 L1010.0,641.2 L1011.0,640.6 L1012.0,640.0 L1013.0,639.5 L1014.0,638.9 L1015.0,638.4 L1016.0,637.8 L1017.0,637.3 L1018.0,636.8 L1019.0,636.3 L1020.0,635.7 L1021.0,635.2 L1022.0,634.7 L1023.0,634.2 L1024.0,633.8 L1025.0,633.3 L1026.0,632.8 L1027.0,632.3 L1028.0,631.9 L1029.0,631.4 L1030.0,631.0 L1031.0,630.6 L1032.0,630.2 L1033.0,629.8 L1034.0,629.3 L1035.0,629.0 L1036.0,628.6 L1037.0,628.2 L1038.0,627.8 L1039.0,627.5 L1040.0,627.1 L1041.0,626.8 L1042.0,626.4 L1043.0,626.1 L1044.0,625.8 L1045.0,625.5 L1046.0,625.2 L1047.0,624.9 L1048.0,624.6 L1049.0,624.4 L1050.0,624.1 L1051.0,623.9 L1052.0,623.6 L1053.0,623.4 L1054.0,623.1 L1055.0,622.9 L1056.0,622.7 L1057.0,622.5 L1058.0,622.3 L1059.0,622.1 L1060.0,622.0 L1061.0,621.8 L1062.0,621.6 L1063.0,621.5 L1064.0,621.3 L1065.0,621.2 L1066.0,621.1 L1067.0,620.9 L1068.0,620.8 L1069.0,620.7 L1070.0,620.6 L1071.0,620.5 L1072.0,620.5 L1073.0,620.4 L1074.0,620.3 L1075.0,620.3 L1076.0,620.2 L1077.0,620.2 L1078.0,620.1 L1079.0,620.1 L1080.0,620.1 L1081.0,620.1 L1082.0,620.1 L1083.0,620.1 L1084.0,620.1 L1085.0,620.1 L1086.0,620.1 L1087.0,620.2 L1088.0,620.2 L1089.0,620.2 L1090.0,620.3 L1091.0,620.4 L1092.0,620.4 L1093.0,620.5 L1094.0,620.6 L1095.0,620.7 L1096.0,620.8 L1097.0,620.9 L1098.0,621.0 L1099.0,621.1 L1100.0,621.2 L1101.0,621.4 L1102.0,621.5 L1103.0,621.6 L1104.0,621.8 L1105.0,621.9 L1106.0,622.1 L1107.0,622.3 L1108.0,622.5 L1109.0,622.6 L1110.0,622.8 L1111.0,623.0 L1112.0,623.2 L1113.0,623.4 L1114.0,623.7 L1115.0,623.9 L1116.0,624.1 L1117.0,624.3 L1118.0,624.6 L1119.0,624.8 L1120.0,625.1 L1121.0,625.3 L1122.0,625.6 L1123.0,625.9 L1124.0,626.2 L1125.0,626.4 L1126.0,626.7 L1127.0,627.0 L1128.0,627.3 L1129.0,627.6 L1130.0,627.9 L1131.0,628.3 L1132.0,628.6 L1133.0,628.9 L1134.0,629.3 L1135.0,629.6 L1136.0,629.9 L1137.0,630.3 L1138.0,630.7 L1139.0,631.0 L1140.0,631.4 L1141.0,631.8 L1142.0,632.1 L1143.0,632.5 L1144.0,632.9 L1145.0,633.3 L1146.0,633.7 L1147.0,634.1 L1148.0,634.5 L1149.0,634.9 L1150.0,635.4 L1151.0,635.8 L1152.0,636.2 L1153.0,636.7 L1154.0,637.1 L1155.0,637.5 L1156.0,638.0 L1157.0,638.4 L1158.0,638.9 L1159.0,639.4 L1160.0,639.8 L1161.0,640.3 L1162.0,640.8 L1163.0,641.3 L1164.0,641.8 L1165.0,642.3 L1166.0,642.8 L1167.0,643.3 L1168.0,643.8 L1169.0,644.3 L1170.0,644.8 L1171.0,645.3 L1172.0,645.8 L1173.0,646.4 L1174.0,646.9 L1175.0,647.4 L1176.0,648.0 L1177.0,648.5 L1178.0,649.1 L1179.0,649.6 L1180.0,650.2 L1181.0,650.7 L1182.0,651.3 L1183.0,651.9 L1184.0,652.4 L1185.0,653.0 L1186.0,653.6 L1187.0,654.2 L1188.0,654.8 L1189.0,655.4 L1190.0,656.0 L1191.0,656.6 L1192.0,657.2 L1193.0,657.8 L1194.0,658.4 L1195.0,659.0 L1196.0,659.6 L1197.0,660.2 L1198.0,660.8 L1199.0,661.5 L1200.0,662.1 L1201.0,662.7 L1202.0,663.4 L1203.0,664.0 L1204.0,664.6 L1205.0,665.3 L1206.0,665.9 L1207.0,666.6 L1208.0,667.2 L1209.0,667.9 L1210.0,668.6 L1211.0,669.2 L1212.0,669.9 L1213.0,670.6 L1214.0,671.2 L1215.0,671.9 L1216.0,672.6 L1217.0,673.3 L1218.0,674.0 L1219.0,674.6 L1220.0,675.3 L1221.0,676.0 L1222.0,676.7 L1223.0,677.4 L1224.0,678.1 L1225.0,678.8 L1226.0,679.5 L1227.0,680.2 L1228.0,680.9 L1229.0,681.6 L1230.0,682.3 L1231.0,683.1 L1232.0,683.8 L1233.0,684.5 L1234.0,685.2 L1235.0,685.9 L1236.0,686.7 L1237.0,687.4 L1238.0,688.1 L1239.0,688.8 L1240.0,689.6 L1241.0,690.3 L1242.0,691.0 L1243.0,691.8 L1244.0,692.5 L1245.0,693.3 L1246.0,694.0 L1247.0,694.8 L1248.0,695.5 L1249.0,696.3 L1250.0,697.0 L1251.0,697.8 L1252.0,698.5 L1253.0,699.3 L1254.0,700.0 L1255.0,700.8 L1256.0,701.5 L1257.0,702.3 L1258.0,703.0 L1259.0,703.8 L1260.0,704.6 L1261.0,705.3 L1262.0,706.1 L1263.0,706.9 L1264.0,707.6 L1265.0,708.4 L1266.0,709.2 L1267.0,709.9" fill="none" stroke="#F00000" stroke-width="4.2"/>
<path d="M775.0,762.4 L776.0,762.3 L777.0,762.1 L778.0,762.0 L779.0,761.8 L780.0,761.7 L781.0,761.5 L782.0,761.4 L783.0,761.2 L784.0,761.1 L785.0,760.9 L786.0,760.8 L787.0,760.6 L788.0,760.5 L789.0,760.3 L790.0,760.2 L791.0,760.0 L792.0,759.9 L793.0,759.7 L794.0,759.6 L795.0,759.4 L796.0,759.3 L797.0,759.1 L798.0,759.0 L799.0,758.8 L800.0,758.7 L801.0,758.5 L802.0,758.4 L803.0,758.2 L804.0,758.1 L805.0,757.9 L806.0,757.8 L807.0,757.6 L808.0,757.5 L809.0,757.3 L810.0,757.1 L811.0,757.0 L812.0,756.8 L813.0,756.7 L814.0,756.5 L815.0,756.3 L816.0,756.2 L817.0,756.0 L818.0,755.8 L819.0,755.7 L820.0,755.5 L821.0,755.3 L822.0,755.1 L823.0,755.0 L824.0,754.8 L825.0,754.6 L826.0,754.4 L827.0,754.2 L828.0,754.0 L829.0,753.8 L830.0,753.6 L831.0,753.5 L832.0,753.3 L833.0,753.1 L834.0,752.8 L835.0,752.6 L836.0,752.4 L837.0,752.2 L838.0,752.0 L839.0,751.8 L840.0,751.6 L841.0,751.3 L842.0,751.1 L843.0,750.9 L844.0,750.6 L845.0,750.4 L846.0,750.2 L847.0,749.9 L848.0,749.7 L849.0,749.4 L850.0,749.1 L851.0,748.9 L852.0,748.6 L853.0,748.4 L854.0,748.1 L855.0,747.8 L856.0,747.5 L857.0,747.2 L858.0,746.9 L859.0,746.7 L860.0,746.4 L861.0,746.1 L862.0,745.7 L863.0,745.4 L864.0,745.1 L865.0,744.8 L866.0,744.5 L867.0,744.1 L868.0,743.8 L869.0,743.5 L870.0,743.1 L871.0,742.8 L872.0,742.4 L873.0,742.0 L874.0,741.7 L875.0,741.3 L876.0,740.9 L877.0,740.5 L878.0,740.1 L879.0,739.8 L880.0,739.4 L881.0,738.9 L882.0,738.5 L883.0,738.1 L884.0,737.7 L885.0,737.3 L886.0,736.8 L887.0,736.4 L888.0,735.9 L889.0,735.5 L890.0,735.0 L891.0,734.5 L892.0,734.1 L893.0,733.6 L894.0,733.1 L895.0,732.6 L896.0,732.1 L897.0,731.6 L898.0,731.1 L899.0,730.6 L900.0,730.1 L901.0,729.6 L902.0,729.1 L903.0,728.6 L904.0,728.0 L905.0,727.5 L906.0,727.0 L907.0,726.4 L908.0,725.9 L909.0,725.3 L910.0,724.8 L911.0,724.2 L912.0,723.7 L913.0,723.1 L914.0,722.5 L915.0,721.9 L916.0,721.4 L917.0,720.8 L918.0,720.2 L919.0,719.6 L920.0,719.0 L921.0,718.5 L922.0,717.9 L923.0,717.3 L924.0,716.7 L925.0,716.1 L926.0,715.5 L927.0,714.9 L928.0,714.3 L929.0,713.6 L930.0,713.0 L931.0,712.4 L932.0,711.8 L933.0,711.2 L934.0,710.6 L935.0,709.9 L936.0,709.3 L937.0,708.7 L938.0,708.1 L939.0,707.5 L940.0,706.8 L941.0,706.2 L942.0,705.6 L943.0,704.9 L944.0,704.3 L945.0,703.7 L946.0,703.0 L947.0,702.4 L948.0,701.8 L949.0,701.1 L950.0,700.5 L951.0,699.9 L952.0,699.2 L953.0,698.6 L954.0,698.0 L955.0,697.3 L956.0,696.7 L957.0,696.1 L958.0,695.4 L959.0,694.8 L960.0,694.2 L961.0,693.5 L962.0,692.9 L963.0,692.3 L964.0,691.7 L965.0,691.0 L966.0,690.4 L967.0,689.8 L968.0,689.2 L969.0,688.5 L970.0,687.9 L971.0,687.3 L972.0,686.7 L973.0,686.1 L974.0,685.4 L975.0,684.8 L976.0,684.2 L977.0,683.6 L978.0,683.0 L979.0,682.4 L980.0,681.8 L981.0,681.2 L982.0,680.6 L983.0,680.0 L984.0,679.4 L985.0,678.8 L986.0,678.3 L987.0,677.7 L988.0,677.1 L989.0,676.5 L990.0,676.0 L991.0,675.4 L992.0,674.8 L993.0,674.3 L994.0,673.7 L995.0,673.1 L996.0,672.6 L997.0,672.0 L998.0,671.5 L999.0,671.0 L1000.0,670.4 L1001.0,669.9 L1002.0,669.4 L1003.0,668.9 L1004.0,668.3 L1005.0,667.8 L1006.0,667.3 L1007.0,666.8 L1008.0,666.3 L1009.0,665.8 L1010.0,665.3 L1011.0,664.9 L1012.0,664.4 L1013.0,663.9 L1014.0,663.4 L1015.0,663.0 L1016.0,662.5 L1017.0,662.1 L1018.0,661.6 L1019.0,661.2 L1020.0,660.8 L1021.0,660.3 L1022.0,659.9 L1023.0,659.5 L1024.0,659.1 L1025.0,658.7 L1026.0,658.3 L1027.0,657.9 L1028.0,657.5 L1029.0,657.2 L1030.0,656.8 L1031.0,656.4 L1032.0,656.1 L1033.0,655.7 L1034.0,655.4 L1035.0,655.1 L1036.0,654.7 L1037.0,654.4 L1038.0,654.1 L1039.0,653.8 L1040.0,653.5 L1041.0,653.2 L1042.0,652.9 L1043.0,652.7 L1044.0,652.4 L1045.0,652.1 L1046.0,651.9 L1047.0,651.6 L1048.0,651.4 L1049.0,651.2 L1050.0,651.0 L1051.0,650.7 L1052.0,650.5 L1053.0,650.3 L1054.0,650.1 L1055.0,650.0 L1056.0,649.8 L1057.0,649.6 L1058.0,649.4 L1059.0,649.3 L1060.0,649.1 L1061.0,649.0 L1062.0,648.8 L1063.0,648.7 L1064.0,648.6 L1065.0,648.5 L1066.0,648.4 L1067.0,648.3 L1068.0,648.2 L1069.0,648.1 L1070.0,648.0 L1071.0,647.9 L1072.0,647.8 L1073.0,647.8 L1074.0,647.7 L1075.0,647.6 L1076.0,647.6 L1077.0,647.6 L1078.0,647.5 L1079.0,647.5 L1080.0,647.5 L1081.0,647.5 L1082.0,647.5 L1083.0,647.4 L1084.0,647.5 L1085.0,647.5 L1086.0,647.5 L1087.0,647.5 L1088.0,647.5 L1089.0,647.6 L1090.0,647.6 L1091.0,647.6 L1092.0,647.7 L1093.0,647.7 L1094.0,647.8 L1095.0,647.9 L1096.0,648.0 L1097.0,648.0 L1098.0,648.1 L1099.0,648.2 L1100.0,648.3 L1101.0,648.4 L1102.0,648.5 L1103.0,648.6 L1104.0,648.7 L1105.0,648.9 L1106.0,649.0 L1107.0,649.1 L1108.0,649.3 L1109.0,649.4 L1110.0,649.6 L1111.0,649.7 L1112.0,649.9 L1113.0,650.1 L1114.0,650.2 L1115.0,650.4 L1116.0,650.6 L1117.0,650.8 L1118.0,651.0 L1119.0,651.2 L1120.0,651.4 L1121.0,651.6 L1122.0,651.8 L1123.0,652.0 L1124.0,652.2 L1125.0,652.4 L1126.0,652.7 L1127.0,652.9 L1128.0,653.2 L1129.0,653.4 L1130.0,653.7 L1131.0,653.9 L1132.0,654.2 L1133.0,654.4 L1134.0,654.7 L1135.0,655.0 L1136.0,655.3 L1137.0,655.5 L1138.0,655.8 L1139.0,656.1 L1140.0,656.4 L1141.0,656.7 L1142.0,657.0 L1143.0,657.3 L1144.0,657.6 L1145.0,657.9 L1146.0,658.3 L1147.0,658.6 L1148.0,658.9 L1149.0,659.3 L1150.0,659.6 L1151.0,659.9 L1152.0,660.3 L1153.0,660.6 L1154.0,661.0 L1155.0,661.3 L1156.0,661.7 L1157.0,662.1 L1158.0,662.4 L1159.0,662.8 L1160.0,663.2 L1161.0,663.6 L1162.0,664.0 L1163.0,664.3 L1164.0,664.7 L1165.0,665.1 L1166.0,665.5 L1167.0,665.9 L1168.0,666.3 L1169.0,666.7 L1170.0,667.2 L1171.0,667.6 L1172.0,668.0 L1173.0,668.4 L1174.0,668.8 L1175.0,669.3 L1176.0,669.7 L1177.0,670.1 L1178.0,670.6 L1179.0,671.0 L1180.0,671.5 L1181.0,671.9 L1182.0,672.4 L1183.0,672.8 L1184.0,673.3 L1185.0,673.7 L1186.0,674.2 L1187.0,674.7 L1188.0,675.1 L1189.0,675.6 L1190.0,676.1 L1191.0,676.6 L1192.0,677.0 L1193.0,677.5 L1194.0,678.0 L1195.0,678.5 L1196.0,679.0 L1197.0,679.5 L1198.0,680.0 L1199.0,680.5 L1200.0,681.0 L1201.0,681.5 L1202.0,682.0 L1203.0,682.5 L1204.0,683.0 L1205.0,683.5 L1206.0,684.0 L1207.0,684.6 L1208.0,685.1 L1209.0,685.6 L1210.0,686.1 L1211.0,686.6 L1212.0,687.2 L1213.0,687.7 L1214.0,688.2 L1215.0,688.8 L1216.0,689.3 L1217.0,689.9 L1218.0,690.4 L1219.0,690.9 L1220.0,691.5 L1221.0,692.0 L1222.0,692.6 L1223.0,693.1 L1224.0,693.7 L1225.0,694.2 L1226.0,694.8 L1227.0,695.4 L1228.0,695.9 L1229.0,696.5 L1230.0,697.0 L1231.0,697.6 L1232.0,698.2 L1233.0,698.7 L1234.0,699.3 L1235.0,699.9 L1236.0,700.4 L1237.0,701.0 L1238.0,701.6 L1239.0,702.2 L1240.0,702.7 L1241.0,703.3 L1242.0,703.9 L1243.0,704.5 L1244.0,705.1 L1245.0,705.6 L1246.0,706.2 L1247.0,706.8 L1248.0,707.4 L1249.0,708.0 L1250.0,708.6 L1251.0,709.2 L1252.0,709.8 L1253.0,710.3 L1254.0,710.9 L1255.0,711.5 L1256.0,712.1 L1257.0,712.7 L1258.0,713.3 L1259.0,713.9 L1260.0,714.5 L1261.0,715.1 L1262.0,715.7 L1263.0,716.3 L1264.0,716.9 L1265.0,717.5 L1266.0,718.1 L1267.0,718.7" fill="none" stroke="#0000F0" stroke-width="4.2"/>
<line x1="782" y1="387.3" x2="834" y2="387.3" stroke="#000" stroke-width="4" stroke-linecap="round"/>
<text x="840.7" y="395.3" font-size="23" fill="#1a1a1a">a) QDs</text>
<line x1="782" y1="416.1" x2="834" y2="416.1" stroke="#F00000" stroke-width="4" stroke-linecap="round"/>
<text x="840.7" y="424.1" font-size="23" fill="#1a1a1a">b) Au NP-QDs</text>
<line x1="782" y1="444.4" x2="834" y2="444.4" stroke="#0000F0" stroke-width="4" stroke-linecap="round"/>
<text x="840.7" y="452.4" font-size="23" fill="#1a1a1a">c) Au NP-QDs-Ab</text>
<text x="1229" y="422.2" font-size="35" text-anchor="middle" fill="#000">a</text>
<line x1="1229" y1="433.9" x2="1229" y2="470" stroke="#000" stroke-width="2.4"/>
<polygon points="1220.5,467 1229,484.8 1237.5,467" fill="#000"/>
<text x="1230" y="516.8" font-size="35" text-anchor="middle" fill="#0000F0">c</text>
<rect x="117.5" y="888.4" width="492.3" height="396.2" fill="none" stroke="#000" stroke-width="2.6"/>
<line x1="117.5" y1="1284.6" x2="117.5" y2="1293.6" stroke="#000" stroke-width="2.6"/>
<line x1="281.6" y1="1284.6" x2="281.6" y2="1293.6" stroke="#000" stroke-width="2.6"/>
<line x1="445.7" y1="1284.6" x2="445.7" y2="1293.6" stroke="#000" stroke-width="2.6"/>
<line x1="609.8" y1="1284.6" x2="609.8" y2="1293.6" stroke="#000" stroke-width="2.6"/>
<line x1="199.5" y1="1284.6" x2="199.5" y2="1289.6" stroke="#000" stroke-width="2.6"/>
<line x1="363.6" y1="1284.6" x2="363.6" y2="1289.6" stroke="#000" stroke-width="2.6"/>
<line x1="527.8" y1="1284.6" x2="527.8" y2="1289.6" stroke="#000" stroke-width="2.6"/>
<line x1="108.5" y1="1284.6" x2="117.5" y2="1284.6" stroke="#000" stroke-width="2.6"/>
<line x1="108.5" y1="1212.6" x2="117.5" y2="1212.6" stroke="#000" stroke-width="2.6"/>
<line x1="108.5" y1="1140.5" x2="117.5" y2="1140.5" stroke="#000" stroke-width="2.6"/>
<line x1="108.5" y1="1068.5" x2="117.5" y2="1068.5" stroke="#000" stroke-width="2.6"/>
<line x1="108.5" y1="996.5" x2="117.5" y2="996.5" stroke="#000" stroke-width="2.6"/>
<line x1="108.5" y1="924.4" x2="117.5" y2="924.4" stroke="#000" stroke-width="2.6"/>
<line x1="112.5" y1="1248.6" x2="117.5" y2="1248.6" stroke="#000" stroke-width="2.6"/>
<line x1="112.5" y1="1176.5" x2="117.5" y2="1176.5" stroke="#000" stroke-width="2.6"/>
<line x1="112.5" y1="1104.5" x2="117.5" y2="1104.5" stroke="#000" stroke-width="2.6"/>
<line x1="112.5" y1="1032.5" x2="117.5" y2="1032.5" stroke="#000" stroke-width="2.6"/>
<line x1="112.5" y1="960.4" x2="117.5" y2="960.4" stroke="#000" stroke-width="2.6"/>
<line x1="112.5" y1="888.4" x2="117.5" y2="888.4" stroke="#000" stroke-width="2.6"/>
<text x="117.5" y="1320.6" font-size="29" text-anchor="middle" fill="#1a1a1a">700</text>
<text x="281.6" y="1320.6" font-size="29" text-anchor="middle" fill="#1a1a1a">750</text>
<text x="445.7" y="1320.6" font-size="29" text-anchor="middle" fill="#1a1a1a">800</text>
<text x="609.8" y="1320.6" font-size="29" text-anchor="middle" fill="#1a1a1a">850</text>
<text x="102.5" y="1294.6" font-size="29" text-anchor="end" fill="#1a1a1a">0.0</text>
<text x="102.5" y="1222.6" font-size="29" text-anchor="end" fill="#1a1a1a">0.2</text>
<text x="102.5" y="1150.5" font-size="29" text-anchor="end" fill="#1a1a1a">0.4</text>
<text x="102.5" y="1078.5" font-size="29" text-anchor="end" fill="#1a1a1a">0.6</text>
<text x="102.5" y="1006.5" font-size="29" text-anchor="end" fill="#1a1a1a">0.8</text>
<text x="102.5" y="934.4" font-size="29" text-anchor="end" fill="#1a1a1a">1.0</text>
<text x="364" y="1355.5" font-size="33" text-anchor="middle" fill="#1a1a1a">Wavelength (nm)</text>
<text transform="translate(36.5,1085.7) rotate(-90)" font-size="33" text-anchor="middle" fill="#1a1a1a">Normalized Fluorescence</text>
<path d="M130.0,1254.8 L131.5,1253.7 L133.0,1253.1 L134.5,1251.7 L136.0,1250.2 L137.5,1249.6 L139.0,1249.1 L140.5,1247.7 L142.0,1245.5 L143.5,1244.0 L145.0,1243.1 L146.5,1242.3 L148.0,1239.6 L149.5,1239.6 L151.0,1237.6 L152.5,1236.6 L154.0,1235.4 L155.5,1234.2 L157.0,1233.2 L158.5,1232.2 L160.0,1230.1 L161.5,1229.5 L163.0,1226.9 L164.5,1226.0 L166.0,1224.9 L167.5,1222.9 L169.0,1220.9 L170.5,1219.3 L172.0,1218.1 L173.5,1216.9 L175.0,1214.7 L176.5,1213.6 L178.0,1212.0 L179.5,1210.9 L181.0,1209.1 L182.5,1207.6 L184.0,1205.4 L185.5,1204.1 L187.0,1203.0 L188.5,1201.8 L190.0,1198.5 L191.5,1198.5 L193.0,1196.7 L194.5,1194.6 L196.0,1192.6 L197.5,1190.5 L199.0,1189.7 L200.5,1188.2 L202.0,1186.2 L203.5,1184.0 L205.0,1181.5 L206.5,1178.6 L208.0,1177.3 L209.5,1175.7 L211.0,1172.4 L212.5,1171.3 L214.0,1169.1 L215.5,1167.0 L217.0,1163.6 L218.5,1161.5 L220.0,1159.2 L221.5,1156.3 L223.0,1155.6 L224.5,1151.7 L226.0,1149.6 L227.5,1146.6 L229.0,1145.0 L230.5,1142.2 L232.0,1139.0 L233.5,1134.6 L235.0,1133.2 L236.5,1130.8 L238.0,1128.2 L239.5,1124.4 L241.0,1123.0 L242.5,1118.3 L244.0,1115.9 L245.5,1114.1 L247.0,1110.8 L248.5,1109.2 L250.0,1105.3 L251.5,1102.1 L253.0,1099.6 L254.5,1096.5 L256.0,1093.7 L257.5,1092.2 L259.0,1089.6 L260.5,1087.4 L262.0,1083.7 L263.5,1082.6 L265.0,1078.8 L266.5,1077.4 L268.0,1073.7 L269.5,1071.0 L271.0,1069.1 L272.5,1067.1 L274.0,1064.0 L275.5,1061.0 L277.0,1058.1 L278.5,1055.5 L280.0,1054.1 L281.5,1051.8 L283.0,1048.5 L284.5,1045.4 L286.0,1044.0 L287.5,1040.0 L289.0,1037.8 L290.5,1035.9 L292.0,1031.6 L293.5,1030.5 L295.0,1027.3 L296.5,1025.1 L298.0,1022.3 L299.5,1019.9 L301.0,1017.5 L302.5,1014.1 L304.0,1012.8 L305.5,1009.7 L307.0,1007.2 L308.5,1004.9 L310.0,1002.1 L311.5,999.6 L313.0,996.6 L314.5,993.2 L316.0,991.6 L317.5,988.7 L319.0,986.0 L320.5,984.6 L322.0,981.7 L323.5,979.2 L325.0,976.9 L326.5,975.4 L328.0,973.3 L329.5,971.7 L331.0,968.8 L332.5,967.4 L334.0,965.5 L335.5,963.4 L337.0,959.4 L338.5,959.7 L340.0,957.3 L341.5,955.6 L343.0,953.9 L344.5,952.2 L346.0,950.6 L347.5,948.6 L349.0,946.2 L350.5,945.8 L352.0,944.0 L353.5,943.8 L355.0,941.7 L356.5,940.7 L358.0,939.0 L359.5,938.0 L361.0,937.2 L362.5,935.3 L364.0,935.4 L365.5,934.3 L367.0,932.7 L368.5,931.2 L370.0,932.1 L371.5,930.9 L373.0,930.1 L374.5,929.6 L376.0,930.3 L377.5,928.6 L379.0,928.2 L380.5,926.8 L382.0,928.3 L383.5,927.5 L385.0,927.3 L386.5,926.4 L388.0,926.7 L389.5,926.2 L391.0,926.2 L392.5,925.7 L394.0,924.8 L395.5,926.3 L397.0,924.6 L398.5,925.7 L400.0,925.9 L401.5,925.6 L403.0,926.8 L404.5,926.6 L406.0,926.7 L407.5,927.7 L409.0,927.5 L410.5,929.0 L412.0,928.9 L413.5,928.9 L415.0,928.6 L416.5,929.6 L418.0,931.6 L419.5,931.7 L421.0,932.2 L422.5,934.2 L424.0,933.2 L425.5,934.5 L427.0,935.5 L428.5,937.0 L430.0,937.2 L431.5,938.3 L433.0,938.7 L434.5,941.2 L436.0,942.4 L437.5,942.8 L439.0,944.4 L440.5,944.8 L442.0,946.6 L443.5,949.0 L445.0,949.6 L446.5,952.3 L448.0,951.9 L449.5,954.2 L451.0,955.2 L452.5,957.2 L454.0,958.5 L455.5,959.8 L457.0,961.3 L458.5,965.3 L460.0,965.2 L461.5,965.8 L463.0,968.5 L464.5,971.1 L466.0,972.4 L467.5,975.4 L469.0,977.2 L470.5,978.6 L472.0,980.5 L473.5,982.3 L475.0,984.7 L476.5,986.5 L478.0,990.4 L479.5,992.9 L481.0,993.6 L482.5,996.1 L484.0,998.2 L485.5,1001.2 L487.0,1002.5 L488.5,1006.4 L490.0,1010.5 L491.5,1012.3 L493.0,1015.7 L494.5,1017.8 L496.0,1022.0 L497.5,1023.9 L499.0,1026.5 L500.5,1031.3 L502.0,1032.6 L503.5,1035.1 L505.0,1039.0 L506.5,1042.0 L508.0,1045.8 L509.5,1047.8 L511.0,1052.1 L512.5,1055.3 L514.0,1057.7 L515.5,1061.5 L517.0,1064.2 L518.5,1069.5 L520.0,1071.0 L521.5,1074.6 L523.0,1077.7 L524.5,1081.5 L526.0,1085.2 L527.5,1089.2 L529.0,1091.9 L530.5,1095.7 L532.0,1098.5 L533.5,1102.4 L535.0,1108.2 L536.5,1110.8 L538.0,1113.3 L539.5,1116.7 L541.0,1120.5 L542.5,1124.8 L544.0,1128.5 L545.5,1131.8 L547.0,1135.2 L548.5,1140.6 L550.0,1143.8 L551.5,1147.0 L553.0,1150.9 L554.5,1154.5 L556.0,1156.9 L557.5,1162.5 L559.0,1165.7 L560.5,1169.5 L562.0,1173.6 L563.5,1178.3 L565.0,1181.0 L566.5,1184.7 L568.0,1189.7 L569.5,1193.6 L571.0,1196.3 L572.5,1200.9 L574.0,1203.9 L575.5,1207.8 L577.0,1210.3 L578.5,1214.9 L580.0,1218.4 L581.5,1221.1 L583.0,1224.1 L584.5,1224.3 L586.0,1229.4 L587.5,1231.7 L589.0,1234.1 L590.5,1236.0 L592.0,1238.5 L593.5,1240.6 L595.0,1242.0 L596.5,1243.5 L598.0,1246.1 L599.5,1246.0 L601.0,1248.5 L602.5,1249.1 L604.0,1249.4 L605.5,1250.5 L607.0,1250.8 L608.5,1252.2" fill="none" stroke="#000" stroke-width="3.8" stroke-linejoin="round"/>
<path d="M117.5,1250.4 L119.0,1250.2 L120.5,1249.5 L122.0,1248.0 L123.5,1248.8 L125.0,1248.0 L126.5,1246.8 L128.0,1246.8 L129.5,1246.1 L131.0,1245.4 L132.5,1244.5 L134.0,1244.1 L135.5,1242.5 L137.0,1242.1 L138.5,1241.1 L140.0,1240.9 L141.5,1239.7 L143.0,1238.6 L144.5,1237.4 L146.0,1236.7 L147.5,1235.9 L149.0,1234.7 L150.5,1234.7 L152.0,1233.4 L153.5,1230.1 L155.0,1229.5 L156.5,1229.4 L158.0,1228.1 L159.5,1227.3 L161.0,1226.1 L162.5,1226.0 L164.0,1222.8 L165.5,1221.9 L167.0,1222.1 L168.5,1219.9 L170.0,1218.5 L171.5,1216.4 L173.0,1214.4 L174.5,1214.0 L176.0,1212.5 L177.5,1210.2 L179.0,1209.1 L180.5,1207.9 L182.0,1205.8 L183.5,1204.8 L185.0,1203.3 L186.5,1201.6 L188.0,1199.7 L189.5,1198.7 L191.0,1197.2 L192.5,1195.1 L194.0,1192.7 L195.5,1191.9 L197.0,1189.4 L198.5,1188.4 L200.0,1185.5 L201.5,1184.8 L203.0,1182.4 L204.5,1179.8 L206.0,1178.5 L207.5,1176.8 L209.0,1175.0 L210.5,1172.3 L212.0,1170.2 L213.5,1169.0 L215.0,1166.6 L216.5,1165.0 L218.0,1163.3 L219.5,1159.8 L221.0,1158.8 L222.5,1157.3 L224.0,1154.3 L225.5,1151.9 L227.0,1150.6 L228.5,1148.2 L230.0,1146.4 L231.5,1143.5 L233.0,1140.6 L234.5,1139.2 L236.0,1136.8 L237.5,1135.3 L239.0,1132.7 L240.5,1129.4 L242.0,1127.4 L243.5,1126.4 L245.0,1124.0 L246.5,1120.9 L248.0,1119.1 L249.5,1117.1 L251.0,1114.8 L252.5,1112.8 L254.0,1110.1 L255.5,1107.6 L257.0,1105.3 L258.5,1103.8 L260.0,1099.5 L261.5,1098.5 L263.0,1096.4 L264.5,1093.3 L266.0,1092.1 L267.5,1089.2 L269.0,1087.9 L270.5,1085.1 L272.0,1083.4 L273.5,1081.5 L275.0,1078.8 L276.5,1075.9 L278.0,1073.3 L279.5,1073.1 L281.0,1069.9 L282.5,1067.4 L284.0,1065.8 L285.5,1063.5 L287.0,1062.1 L288.5,1059.5 L290.0,1057.5 L291.5,1055.0 L293.0,1053.7 L294.5,1050.9 L296.0,1049.9 L297.5,1048.5 L299.0,1044.8 L300.5,1042.4 L302.0,1042.3 L303.5,1041.7 L305.0,1037.7 L306.5,1035.8 L308.0,1035.1 L309.5,1032.5 L311.0,1031.0 L312.5,1029.4 L314.0,1028.3 L315.5,1026.1 L317.0,1024.9 L318.5,1023.0 L320.0,1021.1 L321.5,1019.8 L323.0,1017.9 L324.5,1017.0 L326.0,1014.9 L327.5,1013.5 L329.0,1013.6 L330.5,1011.4 L332.0,1010.0 L333.5,1009.0 L335.0,1007.2 L336.5,1006.1 L338.0,1005.2 L339.5,1004.0 L341.0,1001.9 L342.5,1002.0 L344.0,1000.0 L345.5,998.7 L347.0,997.7 L348.5,997.0 L350.0,997.3 L351.5,994.6 L353.0,994.5 L354.5,992.3 L356.0,992.7 L357.5,992.4 L359.0,991.0 L360.5,990.0 L362.0,989.8 L363.5,989.4 L365.0,988.7 L366.5,988.9 L368.0,987.3 L369.5,986.2 L371.0,986.0 L372.5,985.6 L374.0,985.3 L375.5,984.8 L377.0,984.6 L378.5,983.1 L380.0,984.3 L381.5,983.3 L383.0,982.7 L384.5,983.6 L386.0,983.9 L387.5,983.3 L389.0,983.0 L390.5,982.4 L392.0,984.7 L393.5,983.5 L395.0,982.4 L396.5,982.8 L398.0,983.5 L399.5,982.7 L401.0,984.1 L402.5,984.0 L404.0,985.3 L405.5,985.6 L407.0,983.8 L408.5,985.9 L410.0,985.4 L411.5,987.6 L413.0,987.7 L414.5,988.5 L416.0,988.2 L417.5,990.7 L419.0,991.5 L420.5,990.4 L422.0,992.1 L423.5,992.4 L425.0,993.6 L426.5,993.8 L428.0,996.7 L429.5,996.0 L431.0,997.4 L432.5,999.0 L434.0,999.4 L435.5,1000.8 L437.0,1001.8 L438.5,1003.2 L440.0,1003.9 L441.5,1005.6 L443.0,1007.1 L444.5,1008.3 L446.0,1010.0 L447.5,1011.2 L449.0,1013.2 L450.5,1014.1 L452.0,1015.7 L453.5,1016.9 L455.0,1018.6 L456.5,1019.8 L458.0,1022.5 L459.5,1023.2 L461.0,1025.1 L462.5,1027.5 L464.0,1029.3 L465.5,1030.6 L467.0,1031.4 L468.5,1034.8 L470.0,1036.5 L471.5,1037.5 L473.0,1040.7 L474.5,1041.8 L476.0,1043.5 L477.5,1046.3 L479.0,1048.2 L480.5,1050.5 L482.0,1051.5 L483.5,1055.7 L485.0,1056.4 L486.5,1058.0 L488.0,1061.5 L489.5,1063.1 L491.0,1065.8 L492.5,1067.7 L494.0,1070.2 L495.5,1072.7 L497.0,1074.4 L498.5,1077.7 L500.0,1079.4 L501.5,1081.6 L503.0,1084.6 L504.5,1087.3 L506.0,1089.4 L507.5,1091.5 L509.0,1094.9 L510.5,1096.1 L512.0,1099.1 L513.5,1102.3 L515.0,1104.1 L516.5,1107.6 L518.0,1110.2 L519.5,1113.4 L521.0,1115.0 L522.5,1117.9 L524.0,1121.2 L525.5,1122.3 L527.0,1128.3 L528.5,1128.8 L530.0,1131.5 L531.5,1135.3 L533.0,1137.5 L534.5,1139.2 L536.0,1143.4 L537.5,1146.3 L539.0,1148.3 L540.5,1151.2 L542.0,1154.4 L543.5,1156.3 L545.0,1159.9 L546.5,1162.5 L548.0,1164.7 L549.5,1167.0 L551.0,1170.4 L552.5,1172.7 L554.0,1176.6 L555.5,1178.7 L557.0,1181.8 L558.5,1184.0 L560.0,1186.7 L561.5,1188.7 L563.0,1192.1 L564.5,1195.4 L566.0,1196.7 L567.5,1199.0 L569.0,1201.7 L570.5,1204.0 L572.0,1206.3 L573.5,1209.2 L575.0,1211.3 L576.5,1214.7 L578.0,1216.1 L579.5,1218.6 L581.0,1221.2 L582.5,1222.6 L584.0,1225.8 L585.5,1226.7 L587.0,1228.6 L588.5,1230.9 L590.0,1233.0 L591.5,1234.2 L593.0,1236.9 L594.5,1237.7 L596.0,1241.4 L597.5,1242.2 L599.0,1243.6 L600.5,1245.0 L602.0,1246.9 L603.5,1248.5 L605.0,1249.5 L606.5,1251.0 L608.0,1252.7 L609.5,1253.8" fill="none" stroke="#FF0000" stroke-width="3.8" stroke-linejoin="round"/>
<path d="M117.5,1257.3 L119.0,1256.3 L120.5,1255.8 L122.0,1254.0 L123.5,1255.9 L125.0,1254.9 L126.5,1253.4 L128.0,1253.4 L129.5,1252.5 L131.0,1251.3 L132.5,1251.6 L134.0,1250.2 L135.5,1249.5 L137.0,1248.6 L138.5,1248.7 L140.0,1247.7 L141.5,1247.4 L143.0,1246.0 L144.5,1245.7 L146.0,1244.4 L147.5,1244.7 L149.0,1243.6 L150.5,1243.0 L152.0,1242.3 L153.5,1240.7 L155.0,1241.0 L156.5,1241.0 L158.0,1237.9 L159.5,1237.1 L161.0,1236.4 L162.5,1237.0 L164.0,1235.8 L165.5,1235.5 L167.0,1234.4 L168.5,1233.2 L170.0,1232.4 L171.5,1231.2 L173.0,1230.9 L174.5,1228.8 L176.0,1228.3 L177.5,1227.8 L179.0,1227.7 L180.5,1225.2 L182.0,1224.0 L183.5,1223.3 L185.0,1223.2 L186.5,1221.5 L188.0,1221.4 L189.5,1218.4 L191.0,1219.1 L192.5,1217.9 L194.0,1215.3 L195.5,1215.1 L197.0,1214.6 L198.5,1212.7 L200.0,1212.1 L201.5,1211.7 L203.0,1209.2 L204.5,1207.6 L206.0,1206.1 L207.5,1205.6 L209.0,1203.8 L210.5,1202.5 L212.0,1201.2 L213.5,1200.3 L215.0,1197.8 L216.5,1196.1 L218.0,1194.2 L219.5,1194.9 L221.0,1192.7 L222.5,1192.1 L224.0,1189.7 L225.5,1187.7 L227.0,1186.8 L228.5,1184.9 L230.0,1182.6 L231.5,1181.2 L233.0,1181.1 L234.5,1178.6 L236.0,1177.0 L237.5,1174.8 L239.0,1172.9 L240.5,1172.1 L242.0,1169.7 L243.5,1167.6 L245.0,1166.2 L246.5,1164.0 L248.0,1162.8 L249.5,1161.6 L251.0,1158.6 L252.5,1158.1 L254.0,1155.1 L255.5,1153.7 L257.0,1151.3 L258.5,1149.8 L260.0,1148.2 L261.5,1146.0 L263.0,1144.0 L264.5,1142.2 L266.0,1140.3 L267.5,1138.0 L269.0,1136.9 L270.5,1135.5 L272.0,1134.0 L273.5,1132.0 L275.0,1131.3 L276.5,1128.2 L278.0,1125.9 L279.5,1125.5 L281.0,1122.0 L282.5,1121.4 L284.0,1118.5 L285.5,1117.5 L287.0,1114.4 L288.5,1114.4 L290.0,1112.1 L291.5,1109.9 L293.0,1109.8 L294.5,1107.6 L296.0,1105.5 L297.5,1103.4 L299.0,1102.2 L300.5,1100.5 L302.0,1099.5 L303.5,1098.0 L305.0,1095.5 L306.5,1094.1 L308.0,1092.6 L309.5,1090.6 L311.0,1089.6 L312.5,1088.4 L314.0,1087.4 L315.5,1086.4 L317.0,1083.7 L318.5,1083.2 L320.0,1081.2 L321.5,1081.4 L323.0,1078.8 L324.5,1077.8 L326.0,1075.6 L327.5,1074.5 L329.0,1073.8 L330.5,1072.2 L332.0,1071.5 L333.5,1069.2 L335.0,1069.3 L336.5,1067.3 L338.0,1067.7 L339.5,1065.4 L341.0,1065.2 L342.5,1062.6 L344.0,1062.7 L345.5,1060.9 L347.0,1060.2 L348.5,1059.5 L350.0,1058.4 L351.5,1057.8 L353.0,1057.2 L354.5,1056.3 L356.0,1055.0 L357.5,1053.5 L359.0,1053.0 L360.5,1052.6 L362.0,1050.7 L363.5,1051.7 L365.0,1050.5 L366.5,1049.8 L368.0,1049.9 L369.5,1049.1 L371.0,1048.3 L372.5,1047.0 L374.0,1047.2 L375.5,1046.8 L377.0,1045.6 L378.5,1046.3 L380.0,1045.5 L381.5,1043.7 L383.0,1044.6 L384.5,1043.4 L386.0,1044.6 L387.5,1044.1 L389.0,1042.7 L390.5,1042.6 L392.0,1043.0 L393.5,1042.7 L395.0,1043.6 L396.5,1043.0 L398.0,1042.4 L399.5,1042.9 L401.0,1041.3 L402.5,1042.7 L404.0,1043.1 L405.5,1042.6 L407.0,1042.4 L408.5,1043.3 L410.0,1044.4 L411.5,1043.5 L413.0,1043.0 L414.5,1044.8 L416.0,1043.2 L417.5,1045.0 L419.0,1044.7 L420.5,1046.0 L422.0,1045.4 L423.5,1047.2 L425.0,1047.1 L426.5,1046.5 L428.0,1046.9 L429.5,1048.5 L431.0,1050.1 L432.5,1050.1 L434.0,1050.8 L435.5,1051.3 L437.0,1052.7 L438.5,1053.3 L440.0,1054.1 L441.5,1054.2 L443.0,1056.4 L444.5,1057.4 L446.0,1056.8 L447.5,1059.9 L449.0,1060.0 L450.5,1060.3 L452.0,1060.5 L453.5,1063.2 L455.0,1064.2 L456.5,1064.7 L458.0,1065.2 L459.5,1068.1 L461.0,1068.3 L462.5,1069.7 L464.0,1073.0 L465.5,1073.9 L467.0,1074.5 L468.5,1075.0 L470.0,1077.1 L471.5,1076.8 L473.0,1079.6 L474.5,1080.6 L476.0,1081.8 L477.5,1083.1 L479.0,1086.0 L480.5,1087.3 L482.0,1088.9 L483.5,1091.0 L485.0,1091.6 L486.5,1093.1 L488.0,1094.4 L489.5,1097.0 L491.0,1099.4 L492.5,1100.6 L494.0,1102.9 L495.5,1103.6 L497.0,1105.9 L498.5,1107.6 L500.0,1109.2 L501.5,1113.0 L503.0,1114.3 L504.5,1115.3 L506.0,1117.2 L507.5,1119.7 L509.0,1120.8 L510.5,1124.0 L512.0,1125.0 L513.5,1127.6 L515.0,1129.3 L516.5,1131.8 L518.0,1133.4 L519.5,1135.4 L521.0,1137.9 L522.5,1140.3 L524.0,1142.7 L525.5,1145.2 L527.0,1148.3 L528.5,1150.1 L530.0,1151.7 L531.5,1154.6 L533.0,1156.1 L534.5,1159.7 L536.0,1161.5 L537.5,1162.7 L539.0,1166.3 L540.5,1168.8 L542.0,1169.1 L543.5,1172.6 L545.0,1175.2 L546.5,1176.8 L548.0,1179.8 L549.5,1182.3 L551.0,1185.7 L552.5,1188.0 L554.0,1191.9 L555.5,1192.6 L557.0,1196.1 L558.5,1197.9 L560.0,1200.5 L561.5,1202.2 L563.0,1204.2 L564.5,1207.3 L566.0,1210.7 L567.5,1213.6 L569.0,1215.4 L570.5,1217.7 L572.0,1219.2 L573.5,1222.9 L575.0,1225.0 L576.5,1226.1 L578.0,1228.6 L579.5,1230.1 L581.0,1233.7 L582.5,1235.0 L584.0,1236.7 L585.5,1238.8 L587.0,1240.7 L588.5,1241.9 L590.0,1243.1 L591.5,1244.7 L593.0,1245.9 L594.5,1248.7 L596.0,1251.1 L597.5,1250.0 L599.0,1252.3 L600.5,1253.5 L602.0,1253.7 L603.5,1255.3 L605.0,1255.3 L606.5,1257.3 L608.0,1256.8 L609.5,1257.6" fill="none" stroke="#0000FF" stroke-width="3.8" stroke-linejoin="round"/>
<path d="M117.5,1259.8 L119.0,1256.7 L120.5,1258.2 L122.0,1257.2 L123.5,1256.9 L125.0,1256.7 L126.5,1255.2 L128.0,1255.9 L129.5,1255.1 L131.0,1257.2 L132.5,1254.9 L134.0,1254.1 L135.5,1253.6 L137.0,1252.9 L138.5,1252.2 L140.0,1252.1 L141.5,1252.1 L143.0,1251.1 L144.5,1251.3 L146.0,1250.0 L147.5,1249.6 L149.0,1249.9 L150.5,1248.7 L152.0,1247.4 L153.5,1247.0 L155.0,1246.8 L156.5,1246.9 L158.0,1244.9 L159.5,1244.2 L161.0,1244.3 L162.5,1242.4 L164.0,1242.0 L165.5,1242.0 L167.0,1241.0 L168.5,1240.0 L170.0,1239.5 L171.5,1236.6 L173.0,1238.1 L174.5,1236.1 L176.0,1234.8 L177.5,1235.1 L179.0,1234.4 L180.5,1232.8 L182.0,1231.5 L183.5,1231.3 L185.0,1230.3 L186.5,1230.2 L188.0,1228.8 L189.5,1227.5 L191.0,1227.0 L192.5,1225.2 L194.0,1223.7 L195.5,1223.6 L197.0,1222.5 L198.5,1220.9 L200.0,1219.4 L201.5,1218.9 L203.0,1216.1 L204.5,1216.9 L206.0,1215.6 L207.5,1213.1 L209.0,1212.9 L210.5,1211.1 L212.0,1210.9 L213.5,1208.0 L215.0,1207.4 L216.5,1207.1 L218.0,1206.0 L219.5,1202.7 L221.0,1202.4 L222.5,1201.6 L224.0,1199.7 L225.5,1199.7 L227.0,1196.6 L228.5,1196.2 L230.0,1194.0 L231.5,1194.1 L233.0,1191.8 L234.5,1190.2 L236.0,1188.0 L237.5,1188.6 L239.0,1186.6 L240.5,1185.2 L242.0,1184.0 L243.5,1182.1 L245.0,1180.1 L246.5,1178.5 L248.0,1177.1 L249.5,1176.9 L251.0,1173.8 L252.5,1172.8 L254.0,1171.5 L255.5,1170.4 L257.0,1169.1 L258.5,1166.6 L260.0,1164.8 L261.5,1164.4 L263.0,1163.6 L264.5,1161.9 L266.0,1160.1 L267.5,1158.3 L269.0,1157.3 L270.5,1155.5 L272.0,1154.7 L273.5,1152.2 L275.0,1151.4 L276.5,1149.8 L278.0,1148.7 L279.5,1147.1 L281.0,1147.1 L282.5,1145.0 L284.0,1143.6 L285.5,1140.1 L287.0,1139.7 L288.5,1138.2 L290.0,1137.5 L291.5,1134.4 L293.0,1135.2 L294.5,1133.8 L296.0,1131.0 L297.5,1129.9 L299.0,1128.7 L300.5,1127.9 L302.0,1126.9 L303.5,1126.5 L305.0,1123.9 L306.5,1123.2 L308.0,1121.6 L309.5,1121.3 L311.0,1119.5 L312.5,1118.7 L314.0,1116.0 L315.5,1115.4 L317.0,1113.9 L318.5,1114.1 L320.0,1112.5 L321.5,1110.8 L323.0,1109.6 L324.5,1109.1 L326.0,1107.3 L327.5,1106.1 L329.0,1105.9 L330.5,1106.1 L332.0,1103.5 L333.5,1102.3 L335.0,1101.0 L336.5,1099.9 L338.0,1100.1 L339.5,1099.4 L341.0,1098.0 L342.5,1097.3 L344.0,1096.3 L345.5,1095.5 L347.0,1093.7 L348.5,1093.5 L350.0,1093.1 L351.5,1091.8 L353.0,1091.2 L354.5,1090.3 L356.0,1089.8 L357.5,1089.9 L359.0,1088.4 L360.5,1087.9 L362.0,1087.9 L363.5,1087.2 L365.0,1087.2 L366.5,1084.4 L368.0,1085.6 L369.5,1084.3 L371.0,1084.2 L372.5,1084.1 L374.0,1083.8 L375.5,1083.4 L377.0,1082.4 L378.5,1082.9 L380.0,1081.4 L381.5,1081.2 L383.0,1081.4 L384.5,1080.3 L386.0,1081.7 L387.5,1080.7 L389.0,1081.2 L390.5,1079.7 L392.0,1079.3 L393.5,1079.5 L395.0,1079.7 L396.5,1078.8 L398.0,1079.4 L399.5,1079.1 L401.0,1080.0 L402.5,1078.7 L404.0,1079.7 L405.5,1078.8 L407.0,1078.7 L408.5,1079.0 L410.0,1078.8 L411.5,1079.8 L413.0,1080.5 L414.5,1080.2 L416.0,1080.8 L417.5,1081.7 L419.0,1081.2 L420.5,1081.5 L422.0,1081.6 L423.5,1081.2 L425.0,1083.0 L426.5,1082.0 L428.0,1083.9 L429.5,1084.0 L431.0,1085.2 L432.5,1085.0 L434.0,1085.2 L435.5,1086.5 L437.0,1086.6 L438.5,1087.5 L440.0,1088.3 L441.5,1088.9 L443.0,1089.6 L444.5,1090.0 L446.0,1091.2 L447.5,1090.8 L449.0,1092.8 L450.5,1093.0 L452.0,1095.3 L453.5,1096.3 L455.0,1095.3 L456.5,1097.5 L458.0,1098.3 L459.5,1098.8 L461.0,1100.7 L462.5,1101.2 L464.0,1101.4 L465.5,1103.4 L467.0,1104.6 L468.5,1105.9 L470.0,1106.2 L471.5,1108.5 L473.0,1109.8 L474.5,1109.9 L476.0,1111.4 L477.5,1113.0 L479.0,1114.0 L480.5,1116.7 L482.0,1117.1 L483.5,1117.7 L485.0,1119.2 L486.5,1121.1 L488.0,1123.9 L489.5,1123.9 L491.0,1125.5 L492.5,1127.3 L494.0,1128.4 L495.5,1131.4 L497.0,1131.2 L498.5,1133.6 L500.0,1134.9 L501.5,1136.8 L503.0,1137.3 L504.5,1140.8 L506.0,1141.4 L507.5,1143.2 L509.0,1144.4 L510.5,1146.3 L512.0,1148.8 L513.5,1150.9 L515.0,1152.6 L516.5,1154.7 L518.0,1156.3 L519.5,1157.8 L521.0,1160.1 L522.5,1161.9 L524.0,1163.4 L525.5,1165.9 L527.0,1168.1 L528.5,1169.5 L530.0,1171.1 L531.5,1173.7 L533.0,1176.4 L534.5,1177.1 L536.0,1179.2 L537.5,1181.1 L539.0,1183.9 L540.5,1184.1 L542.0,1187.4 L543.5,1189.9 L545.0,1190.7 L546.5,1194.1 L548.0,1195.5 L549.5,1196.9 L551.0,1199.3 L552.5,1200.2 L554.0,1202.8 L555.5,1206.2 L557.0,1206.5 L558.5,1210.1 L560.0,1210.9 L561.5,1213.4 L563.0,1214.8 L564.5,1215.3 L566.0,1218.2 L567.5,1220.5 L569.0,1221.5 L570.5,1223.2 L572.0,1226.1 L573.5,1227.2 L575.0,1228.4 L576.5,1230.7 L578.0,1233.4 L579.5,1234.3 L581.0,1236.8 L582.5,1238.8 L584.0,1239.5 L585.5,1240.4 L587.0,1241.9 L588.5,1244.1 L590.0,1246.2 L591.5,1247.3 L593.0,1248.9 L594.5,1249.7 L596.0,1251.5 L597.5,1252.4 L599.0,1253.7 L600.5,1254.4 L602.0,1255.4 L603.5,1257.3 L605.0,1258.0 L606.5,1259.2 L608.0,1261.2 L609.5,1261.8" fill="none" stroke="#FF00FF" stroke-width="3.8" stroke-linejoin="round"/>
<path d="M117.5,1259.9 L119.0,1260.1 L120.5,1261.0 L122.0,1260.2 L123.5,1258.6 L125.0,1259.3 L126.5,1258.7 L128.0,1258.9 L129.5,1257.5 L131.0,1258.3 L132.5,1257.9 L134.0,1258.4 L135.5,1257.3 L137.0,1257.0 L138.5,1255.3 L140.0,1257.1 L141.5,1254.2 L143.0,1255.5 L144.5,1254.2 L146.0,1253.3 L147.5,1252.9 L149.0,1252.3 L150.5,1252.4 L152.0,1251.5 L153.5,1251.9 L155.0,1249.3 L156.5,1249.7 L158.0,1248.5 L159.5,1248.8 L161.0,1246.4 L162.5,1246.8 L164.0,1246.4 L165.5,1244.6 L167.0,1245.4 L168.5,1244.1 L170.0,1243.8 L171.5,1243.0 L173.0,1241.0 L174.5,1240.3 L176.0,1239.8 L177.5,1239.5 L179.0,1238.7 L180.5,1236.8 L182.0,1236.0 L183.5,1235.0 L185.0,1234.2 L186.5,1233.4 L188.0,1232.5 L189.5,1232.9 L191.0,1230.3 L192.5,1229.5 L194.0,1228.9 L195.5,1227.0 L197.0,1226.4 L198.5,1225.5 L200.0,1224.9 L201.5,1222.6 L203.0,1223.1 L204.5,1221.0 L206.0,1220.2 L207.5,1219.5 L209.0,1218.3 L210.5,1217.4 L212.0,1215.7 L213.5,1214.4 L215.0,1213.4 L216.5,1211.5 L218.0,1211.6 L219.5,1209.2 L221.0,1207.7 L222.5,1208.5 L224.0,1206.0 L225.5,1204.1 L227.0,1204.7 L228.5,1202.1 L230.0,1201.7 L231.5,1199.3 L233.0,1198.4 L234.5,1196.2 L236.0,1194.8 L237.5,1194.1 L239.0,1193.3 L240.5,1192.5 L242.0,1192.2 L243.5,1188.8 L245.0,1188.7 L246.5,1186.4 L248.0,1185.3 L249.5,1183.2 L251.0,1181.8 L252.5,1180.9 L254.0,1179.3 L255.5,1178.7 L257.0,1176.9 L258.5,1176.8 L260.0,1174.7 L261.5,1173.4 L263.0,1172.6 L264.5,1170.9 L266.0,1169.2 L267.5,1167.8 L269.0,1166.5 L270.5,1165.8 L272.0,1164.3 L273.5,1162.7 L275.0,1161.6 L276.5,1159.5 L278.0,1158.8 L279.5,1156.3 L281.0,1156.6 L282.5,1154.6 L284.0,1153.3 L285.5,1152.2 L287.0,1150.6 L288.5,1149.1 L290.0,1148.7 L291.5,1146.7 L293.0,1144.8 L294.5,1144.4 L296.0,1141.8 L297.5,1142.6 L299.0,1140.2 L300.5,1139.1 L302.0,1139.2 L303.5,1137.9 L305.0,1135.5 L306.5,1134.6 L308.0,1133.7 L309.5,1132.9 L311.0,1130.6 L312.5,1129.6 L314.0,1129.1 L315.5,1127.4 L317.0,1126.6 L318.5,1125.4 L320.0,1123.3 L321.5,1122.3 L323.0,1120.2 L324.5,1120.6 L326.0,1120.5 L327.5,1118.0 L329.0,1118.4 L330.5,1117.3 L332.0,1115.7 L333.5,1114.8 L335.0,1113.9 L336.5,1112.4 L338.0,1111.8 L339.5,1111.1 L341.0,1110.6 L342.5,1109.9 L344.0,1108.2 L345.5,1108.3 L347.0,1106.5 L348.5,1106.1 L350.0,1105.7 L351.5,1104.8 L353.0,1104.0 L354.5,1103.6 L356.0,1102.4 L357.5,1101.7 L359.0,1101.4 L360.5,1101.5 L362.0,1100.3 L363.5,1101.0 L365.0,1099.4 L366.5,1097.0 L368.0,1098.1 L369.5,1098.9 L371.0,1097.5 L372.5,1096.9 L374.0,1096.2 L375.5,1097.2 L377.0,1096.7 L378.5,1096.3 L380.0,1095.9 L381.5,1096.2 L383.0,1095.7 L384.5,1094.3 L386.0,1095.3 L387.5,1094.8 L389.0,1094.6 L390.5,1095.0 L392.0,1094.5 L393.5,1092.7 L395.0,1095.4 L396.5,1095.1 L398.0,1094.5 L399.5,1094.4 L401.0,1094.8 L402.5,1094.0 L404.0,1095.1 L405.5,1095.0 L407.0,1095.1 L408.5,1094.9 L410.0,1095.3 L411.5,1096.6 L413.0,1097.0 L414.5,1096.8 L416.0,1096.8 L417.5,1096.6 L419.0,1097.9 L420.5,1098.8 L422.0,1097.3 L423.5,1099.3 L425.0,1097.8 L426.5,1099.3 L428.0,1100.2 L429.5,1099.6 L431.0,1100.0 L432.5,1101.6 L434.0,1102.5 L435.5,1102.3 L437.0,1103.9 L438.5,1103.3 L440.0,1105.4 L441.5,1105.0 L443.0,1105.7 L444.5,1106.6 L446.0,1107.1 L447.5,1108.7 L449.0,1109.7 L450.5,1109.4 L452.0,1109.8 L453.5,1109.9 L455.0,1111.0 L456.5,1112.3 L458.0,1113.1 L459.5,1114.0 L461.0,1114.9 L462.5,1116.2 L464.0,1116.0 L465.5,1117.2 L467.0,1119.5 L468.5,1120.3 L470.0,1120.6 L471.5,1122.8 L473.0,1122.7 L474.5,1124.1 L476.0,1124.3 L477.5,1127.1 L479.0,1127.8 L480.5,1129.7 L482.0,1130.8 L483.5,1131.7 L485.0,1133.0 L486.5,1135.0 L488.0,1135.6 L489.5,1136.9 L491.0,1138.5 L492.5,1140.3 L494.0,1141.8 L495.5,1143.9 L497.0,1144.2 L498.5,1146.5 L500.0,1146.8 L501.5,1149.1 L503.0,1150.4 L504.5,1152.9 L506.0,1153.8 L507.5,1154.7 L509.0,1157.0 L510.5,1158.4 L512.0,1159.7 L513.5,1161.3 L515.0,1162.6 L516.5,1166.4 L518.0,1166.5 L519.5,1168.7 L521.0,1169.1 L522.5,1170.8 L524.0,1173.1 L525.5,1174.8 L527.0,1177.1 L528.5,1177.7 L530.0,1180.4 L531.5,1182.7 L533.0,1183.0 L534.5,1185.8 L536.0,1186.4 L537.5,1188.9 L539.0,1190.7 L540.5,1193.2 L542.0,1193.5 L543.5,1195.8 L545.0,1198.0 L546.5,1198.5 L548.0,1200.9 L549.5,1202.1 L551.0,1203.9 L552.5,1206.5 L554.0,1208.2 L555.5,1211.1 L557.0,1212.1 L558.5,1213.7 L560.0,1214.5 L561.5,1216.1 L563.0,1218.1 L564.5,1218.3 L566.0,1222.3 L567.5,1222.6 L569.0,1224.0 L570.5,1226.0 L572.0,1228.4 L573.5,1230.2 L575.0,1230.9 L576.5,1232.9 L578.0,1234.2 L579.5,1235.2 L581.0,1237.4 L582.5,1238.9 L584.0,1239.5 L585.5,1242.5 L587.0,1242.4 L588.5,1244.9 L590.0,1245.6 L591.5,1247.2 L593.0,1248.6 L594.5,1250.9 L596.0,1251.0 L597.5,1253.0 L599.0,1255.4 L600.5,1255.3 L602.0,1257.0 L603.5,1258.6 L605.0,1259.1 L606.5,1260.9 L608.0,1261.4 L609.5,1263.4" fill="none" stroke="#008000" stroke-width="3.8" stroke-linejoin="round"/>
<path d="M117.5,1261.1 L119.0,1260.7 L120.5,1261.3 L122.0,1261.5 L123.5,1261.8 L125.0,1261.0 L126.5,1260.4 L128.0,1260.0 L129.5,1260.7 L131.0,1260.9 L132.5,1259.8 L134.0,1258.6 L135.5,1258.4 L137.0,1259.6 L138.5,1258.4 L140.0,1256.8 L141.5,1257.3 L143.0,1256.2 L144.5,1256.1 L146.0,1255.7 L147.5,1255.1 L149.0,1255.3 L150.5,1254.4 L152.0,1253.5 L153.5,1253.5 L155.0,1253.1 L156.5,1251.0 L158.0,1251.2 L159.5,1250.1 L161.0,1249.9 L162.5,1248.6 L164.0,1248.7 L165.5,1247.9 L167.0,1247.0 L168.5,1245.8 L170.0,1245.4 L171.5,1244.2 L173.0,1243.2 L174.5,1243.3 L176.0,1241.7 L177.5,1242.2 L179.0,1241.1 L180.5,1238.6 L182.0,1239.0 L183.5,1237.3 L185.0,1237.0 L186.5,1236.1 L188.0,1233.9 L189.5,1234.0 L191.0,1233.0 L192.5,1232.8 L194.0,1230.5 L195.5,1230.6 L197.0,1228.5 L198.5,1227.9 L200.0,1226.6 L201.5,1226.9 L203.0,1225.3 L204.5,1225.3 L206.0,1223.2 L207.5,1222.2 L209.0,1221.1 L210.5,1219.1 L212.0,1218.3 L213.5,1218.0 L215.0,1215.8 L216.5,1215.0 L218.0,1213.7 L219.5,1212.9 L221.0,1211.1 L222.5,1210.1 L224.0,1209.1 L225.5,1207.8 L227.0,1206.0 L228.5,1205.9 L230.0,1203.3 L231.5,1202.2 L233.0,1200.9 L234.5,1201.0 L236.0,1199.0 L237.5,1197.3 L239.0,1196.0 L240.5,1195.7 L242.0,1193.5 L243.5,1192.1 L245.0,1192.0 L246.5,1189.6 L248.0,1188.9 L249.5,1187.8 L251.0,1186.2 L252.5,1185.2 L254.0,1184.8 L255.5,1182.4 L257.0,1180.6 L258.5,1179.0 L260.0,1178.7 L261.5,1177.3 L263.0,1176.4 L264.5,1174.7 L266.0,1173.4 L267.5,1172.0 L269.0,1170.9 L270.5,1170.0 L272.0,1168.4 L273.5,1167.4 L275.0,1167.3 L276.5,1165.1 L278.0,1162.7 L279.5,1163.4 L281.0,1161.3 L282.5,1159.3 L284.0,1159.2 L285.5,1157.4 L287.0,1155.9 L288.5,1154.6 L290.0,1153.2 L291.5,1152.6 L293.0,1152.1 L294.5,1150.1 L296.0,1149.3 L297.5,1149.0 L299.0,1146.0 L300.5,1145.8 L302.0,1144.3 L303.5,1142.7 L305.0,1141.6 L306.5,1141.1 L308.0,1140.3 L309.5,1138.7 L311.0,1138.0 L312.5,1137.3 L314.0,1136.0 L315.5,1135.3 L317.0,1134.1 L318.5,1133.1 L320.0,1132.9 L321.5,1131.2 L323.0,1129.9 L324.5,1129.3 L326.0,1127.4 L327.5,1126.9 L329.0,1126.7 L330.5,1125.7 L332.0,1125.4 L333.5,1123.6 L335.0,1121.9 L336.5,1123.1 L338.0,1121.8 L339.5,1119.8 L341.0,1120.5 L342.5,1118.9 L344.0,1117.1 L345.5,1117.2 L347.0,1116.5 L348.5,1117.1 L350.0,1115.0 L351.5,1114.7 L353.0,1114.1 L354.5,1113.5 L356.0,1112.6 L357.5,1112.7 L359.0,1112.7 L360.5,1111.9 L362.0,1110.5 L363.5,1109.9 L365.0,1110.2 L366.5,1109.3 L368.0,1109.0 L369.5,1107.9 L371.0,1109.8 L372.5,1108.8 L374.0,1107.3 L375.5,1108.2 L377.0,1108.2 L378.5,1105.7 L380.0,1106.5 L381.5,1106.4 L383.0,1106.8 L384.5,1106.2 L386.0,1106.0 L387.5,1105.9 L389.0,1107.0 L390.5,1107.1 L392.0,1105.4 L393.5,1105.1 L395.0,1107.3 L396.5,1105.0 L398.0,1105.3 L399.5,1105.7 L401.0,1106.0 L402.5,1106.4 L404.0,1106.2 L405.5,1105.5 L407.0,1106.5 L408.5,1106.5 L410.0,1107.7 L411.5,1106.7 L413.0,1106.2 L414.5,1106.6 L416.0,1108.4 L417.5,1107.4 L419.0,1106.8 L420.5,1108.1 L422.0,1108.8 L423.5,1109.9 L425.0,1108.9 L426.5,1110.4 L428.0,1110.9 L429.5,1110.5 L431.0,1111.2 L432.5,1112.9 L434.0,1113.4 L435.5,1113.4 L437.0,1113.7 L438.5,1114.8 L440.0,1114.6 L441.5,1115.3 L443.0,1115.5 L444.5,1116.7 L446.0,1117.3 L447.5,1119.8 L449.0,1118.7 L450.5,1120.4 L452.0,1121.2 L453.5,1121.1 L455.0,1122.7 L456.5,1121.6 L458.0,1123.8 L459.5,1125.1 L461.0,1124.1 L462.5,1125.8 L464.0,1128.1 L465.5,1128.3 L467.0,1128.8 L468.5,1130.2 L470.0,1131.2 L471.5,1133.0 L473.0,1133.9 L474.5,1134.6 L476.0,1135.5 L477.5,1137.0 L479.0,1139.0 L480.5,1139.6 L482.0,1141.0 L483.5,1141.7 L485.0,1142.3 L486.5,1143.9 L488.0,1146.0 L489.5,1147.0 L491.0,1147.7 L492.5,1148.6 L494.0,1151.0 L495.5,1152.0 L497.0,1153.4 L498.5,1154.8 L500.0,1156.6 L501.5,1158.0 L503.0,1159.8 L504.5,1161.2 L506.0,1162.9 L507.5,1164.1 L509.0,1164.9 L510.5,1166.5 L512.0,1168.3 L513.5,1169.4 L515.0,1171.4 L516.5,1173.3 L518.0,1173.6 L519.5,1174.6 L521.0,1177.9 L522.5,1178.8 L524.0,1180.7 L525.5,1181.1 L527.0,1184.5 L528.5,1185.5 L530.0,1186.6 L531.5,1188.0 L533.0,1189.9 L534.5,1191.3 L536.0,1192.8 L537.5,1193.9 L539.0,1197.0 L540.5,1197.8 L542.0,1199.5 L543.5,1201.1 L545.0,1201.3 L546.5,1204.6 L548.0,1205.7 L549.5,1207.3 L551.0,1209.2 L552.5,1210.2 L554.0,1212.9 L555.5,1213.5 L557.0,1215.0 L558.5,1216.6 L560.0,1218.9 L561.5,1220.8 L563.0,1221.6 L564.5,1222.6 L566.0,1225.8 L567.5,1226.1 L569.0,1229.0 L570.5,1229.8 L572.0,1231.0 L573.5,1232.5 L575.0,1234.8 L576.5,1236.5 L578.0,1237.4 L579.5,1239.6 L581.0,1241.8 L582.5,1241.9 L584.0,1242.9 L585.5,1244.4 L587.0,1245.7 L588.5,1247.6 L590.0,1249.0 L591.5,1250.0 L593.0,1252.6 L594.5,1252.1 L596.0,1254.2 L597.5,1257.6 L599.0,1258.4 L600.5,1259.4 L602.0,1260.7 L603.5,1262.8 L605.0,1263.4 L606.5,1264.4 L608.0,1264.9 L609.5,1266.8" fill="none" stroke="#000080" stroke-width="3.8" stroke-linejoin="round"/>
<text x="133.7" y="921.4" font-size="26.5" fill="#1a1a1a">0 ng/mL</text>
<line x1="181.3" y1="936" x2="181.3" y2="960" stroke="#000" stroke-width="2.4"/>
<polygon points="176,958 181.3,969 186.6,958" fill="#000"/>
<text x="193.5" y="953.6" font-size="21" fill="#333">[cTnI]</text>
<text x="125.2" y="991.3" font-size="26.5" fill="#1a1a1a">10 ng/mL</text>
<rect x="773.7" y="888.4" width="492.7" height="395.3" fill="none" stroke="#000" stroke-width="2.6"/>
<line x1="814.8" y1="1283.7" x2="814.8" y2="1292.7" stroke="#000" stroke-width="2.6"/>
<line x1="896.9" y1="1283.7" x2="896.9" y2="1292.7" stroke="#000" stroke-width="2.6"/>
<line x1="979.0" y1="1283.7" x2="979.0" y2="1292.7" stroke="#000" stroke-width="2.6"/>
<line x1="1061.1" y1="1283.7" x2="1061.1" y2="1292.7" stroke="#000" stroke-width="2.6"/>
<line x1="1143.2" y1="1283.7" x2="1143.2" y2="1292.7" stroke="#000" stroke-width="2.6"/>
<line x1="1225.3" y1="1283.7" x2="1225.3" y2="1292.7" stroke="#000" stroke-width="2.6"/>
<line x1="773.7" y1="1283.7" x2="773.7" y2="1288.7" stroke="#000" stroke-width="2.6"/>
<line x1="855.8" y1="1283.7" x2="855.8" y2="1288.7" stroke="#000" stroke-width="2.6"/>
<line x1="937.9" y1="1283.7" x2="937.9" y2="1288.7" stroke="#000" stroke-width="2.6"/>
<line x1="1020.1" y1="1283.7" x2="1020.1" y2="1288.7" stroke="#000" stroke-width="2.6"/>
<line x1="1102.2" y1="1283.7" x2="1102.2" y2="1288.7" stroke="#000" stroke-width="2.6"/>
<line x1="1184.3" y1="1283.7" x2="1184.3" y2="1288.7" stroke="#000" stroke-width="2.6"/>
<line x1="1266.4" y1="1283.7" x2="1266.4" y2="1288.7" stroke="#000" stroke-width="2.6"/>
<line x1="764.7" y1="1233.5" x2="773.7" y2="1233.5" stroke="#000" stroke-width="2.6"/>
<line x1="764.7" y1="1133.2" x2="773.7" y2="1133.2" stroke="#000" stroke-width="2.6"/>
<line x1="764.7" y1="1032.9" x2="773.7" y2="1032.9" stroke="#000" stroke-width="2.6"/>
<line x1="764.7" y1="932.5" x2="773.7" y2="932.5" stroke="#000" stroke-width="2.6"/>
<text x="814.8" y="1320.7" font-size="29" text-anchor="middle" fill="#1a1a1a">0</text>
<text x="896.9" y="1320.7" font-size="29" text-anchor="middle" fill="#1a1a1a">2</text>
<text x="979.0" y="1320.7" font-size="29" text-anchor="middle" fill="#1a1a1a">4</text>
<text x="1061.1" y="1320.7" font-size="29" text-anchor="middle" fill="#1a1a1a">6</text>
<text x="1143.2" y="1320.7" font-size="29" text-anchor="middle" fill="#1a1a1a">8</text>
<text x="1225.3" y="1320.7" font-size="29" text-anchor="middle" fill="#1a1a1a">10</text>
<text x="758.7" y="1243.5" font-size="29" text-anchor="end" fill="#1a1a1a">0.4</text>
<text x="758.7" y="1143.2" font-size="29" text-anchor="end" fill="#1a1a1a">0.6</text>
<text x="758.7" y="1042.9" font-size="29" text-anchor="end" fill="#1a1a1a">0.8</text>
<text x="758.7" y="942.5" font-size="29" text-anchor="end" fill="#1a1a1a">1.0</text>
<text x="928.2" y="1352.5" font-size="33" fill="#1a1a1a">C<tspan font-size="19.5" dy="11">cTnI</tspan><tspan dy="-11"> (ng/mL)</tspan></text>
<text transform="translate(699,1114.6) rotate(-90)" font-size="33" fill="#1a1a1a">F/F<tspan font-size="19" dy="11.5">0</tspan></text>
<path d="M814.8,947.6 L818.2,951.7 L821.7,955.8 L825.1,959.8 L828.6,963.7 L832.0,967.7 L835.5,971.5 L838.9,975.4 L842.4,979.1 L845.8,982.9 L849.3,986.6 L852.7,990.2 L856.2,993.9 L859.6,997.4 L863.1,1001.0 L866.5,1004.5 L870.0,1007.9 L873.4,1011.3 L876.9,1014.7 L880.3,1018.1 L883.8,1021.4 L887.2,1024.6 L890.7,1027.9 L894.1,1031.0 L897.6,1034.2 L901.0,1037.3 L904.5,1040.4 L907.9,1043.5 L911.4,1046.5 L914.8,1049.5 L918.3,1052.4 L921.7,1055.3 L925.2,1058.2 L928.6,1061.0 L932.1,1063.9 L935.5,1066.6 L939.0,1069.4 L942.4,1072.1 L945.9,1074.8 L949.3,1077.5 L952.8,1080.1 L956.2,1082.7 L959.7,1085.3 L963.1,1087.8 L966.6,1090.3 L970.0,1092.8 L973.5,1095.3 L976.9,1097.7 L980.4,1100.1 L983.8,1102.5 L987.3,1104.8 L990.7,1107.1 L994.2,1109.4 L997.6,1111.7 L1001.1,1113.9 L1004.5,1116.2 L1008.0,1118.4 L1011.4,1120.5 L1014.9,1122.7 L1018.3,1124.8 L1021.8,1126.9 L1025.2,1129.0 L1028.7,1131.0 L1032.1,1133.0 L1035.6,1135.0 L1039.0,1137.0 L1042.5,1139.0 L1045.9,1140.9 L1049.4,1142.8 L1052.8,1144.7 L1056.3,1146.6 L1059.7,1148.4 L1063.2,1150.2 L1066.6,1152.1 L1070.1,1153.8 L1073.5,1155.6 L1077.0,1157.4 L1080.4,1159.1 L1083.9,1160.8 L1087.3,1162.5 L1090.8,1164.1 L1094.2,1165.8 L1097.7,1167.4 L1101.1,1169.0 L1104.6,1170.6 L1108.0,1172.2 L1111.5,1173.8 L1114.9,1175.3 L1118.4,1176.8 L1121.8,1178.3 L1125.3,1179.8 L1128.7,1181.3 L1132.2,1182.8 L1135.6,1184.2 L1139.1,1185.6 L1142.5,1187.0 L1146.0,1188.4 L1149.4,1189.8 L1152.9,1191.1 L1156.3,1192.5 L1159.8,1193.8 L1163.2,1195.1 L1166.7,1196.4 L1170.1,1197.7 L1173.6,1199.0 L1177.0,1200.2 L1180.5,1201.5 L1183.9,1202.7 L1187.4,1203.9 L1190.8,1205.1 L1194.3,1206.3 L1197.7,1207.5 L1201.2,1208.6 L1204.6,1209.8 L1208.1,1210.9 L1211.5,1212.0 L1215.0,1213.1 L1218.4,1214.2 L1221.9,1215.3 L1225.3,1216.4" fill="none" stroke="#F00000" stroke-width="4.4"/>
<path d="M814.8,924.8 L814.8,940.8 M810.8,924.8 L818.8,924.8 M810.8,940.8 L818.8,940.8" stroke="#777" stroke-width="1.2" fill="none"/>
<rect x="810.9" y="928.9" width="7.8" height="7.8" fill="#000"/>
<path d="M896.9,1015.3 L896.9,1015.3 M892.9,1015.3 L900.9,1015.3 M892.9,1015.3 L900.9,1015.3" stroke="#777" stroke-width="1.2" fill="none"/>
<rect x="893.0" y="1011.4" width="7.8" height="7.8" fill="#000"/>
<path d="M979.0,1088.6 L979.0,1113.6 M975.0,1088.6 L983.0,1088.6 M975.0,1113.6 L983.0,1113.6" stroke="#777" stroke-width="1.2" fill="none"/>
<rect x="975.1" y="1097.2" width="7.8" height="7.8" fill="#000"/>
<path d="M1061.1,1142.0 L1061.1,1160.0 M1057.1,1142.0 L1065.1,1142.0 M1057.1,1160.0 L1065.1,1160.0" stroke="#777" stroke-width="1.2" fill="none"/>
<rect x="1057.2" y="1147.1" width="7.8" height="7.8" fill="#000"/>
<path d="M1143.2,1161.5 L1143.2,1187.6 M1139.2,1161.5 L1147.2,1161.5 M1139.2,1187.6 L1147.2,1187.6" stroke="#777" stroke-width="1.2" fill="none"/>
<rect x="1139.3" y="1170.7" width="7.8" height="7.8" fill="#000"/>
<path d="M1225.3,1171.9 L1225.3,1204.0 M1221.3,1171.9 L1229.3,1171.9 M1221.3,1204.0 L1229.3,1204.0" stroke="#777" stroke-width="1.2" fill="none"/>
<rect x="1221.4" y="1184.1" width="7.8" height="7.8" fill="#000"/>
</svg></body></html>
